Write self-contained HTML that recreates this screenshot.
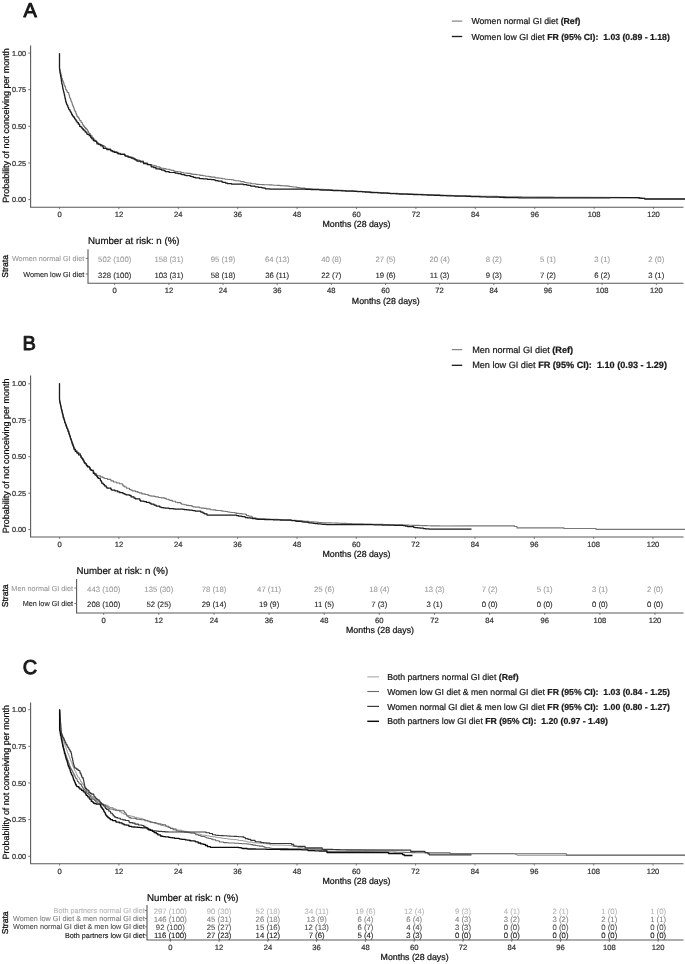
<!DOCTYPE html>
<html><head><meta charset="utf-8"><title>Figure</title>
<style>
html,body{margin:0;padding:0;background:#fff;}
svg{display:block;font-family:"Liberation Sans", sans-serif;text-rendering:geometricPrecision;}

</style></head><body>
<svg width="685" height="964" viewBox="0 0 685 964">
<defs><filter id="soft" x="0" y="0" width="685" height="964" filterUnits="userSpaceOnUse"><feGaussianBlur stdDeviation="0.35"/></filter></defs>
<rect width="685" height="964" fill="#fff"/>
<g filter="url(#soft)">
<text x="23.4" y="16.8" font-size="20.0" fill="#1a1a1a"  text-anchor="start" stroke="#1a1a1a" stroke-width="0.95" stroke-linejoin="round">A</text>
<path d="M30.6,45.5 V207.2 H683.5" fill="none" stroke="#5a5a5a" stroke-width="1.1"/>
<path d="M28.2,199.6 H30.6" stroke="#5a5a5a" stroke-width="0.8"/>
<text x="26.0" y="202.2" font-size="7.25" fill="#333" stroke="#333" stroke-width="0.22" text-anchor="end" >0.00</text>
<path d="M28.2,163.0 H30.6" stroke="#5a5a5a" stroke-width="0.8"/>
<text x="26.0" y="165.6" font-size="7.25" fill="#333" stroke="#333" stroke-width="0.22" text-anchor="end" >0.25</text>
<path d="M28.2,126.3 H30.6" stroke="#5a5a5a" stroke-width="0.8"/>
<text x="26.0" y="128.9" font-size="7.25" fill="#333" stroke="#333" stroke-width="0.22" text-anchor="end" >0.50</text>
<path d="M28.2,89.7 H30.6" stroke="#5a5a5a" stroke-width="0.8"/>
<text x="26.0" y="92.3" font-size="7.25" fill="#333" stroke="#333" stroke-width="0.22" text-anchor="end" >0.75</text>
<path d="M28.2,53.1 H30.6" stroke="#5a5a5a" stroke-width="0.8"/>
<text x="26.0" y="55.7" font-size="7.25" fill="#333" stroke="#333" stroke-width="0.22" text-anchor="end" >1.00</text>
<path d="M59.5,207.2 v1.9" stroke="#5a5a5a" stroke-width="0.8"/>
<text x="59.5" y="217.0" font-size="7.6" fill="#333" stroke="#333" stroke-width="0.22" text-anchor="middle" >0</text>
<path d="M118.9,207.2 v1.9" stroke="#5a5a5a" stroke-width="0.8"/>
<text x="118.9" y="217.0" font-size="7.6" fill="#333" stroke="#333" stroke-width="0.22" text-anchor="middle" >12</text>
<path d="M178.3,207.2 v1.9" stroke="#5a5a5a" stroke-width="0.8"/>
<text x="178.3" y="217.0" font-size="7.6" fill="#333" stroke="#333" stroke-width="0.22" text-anchor="middle" >24</text>
<path d="M237.7,207.2 v1.9" stroke="#5a5a5a" stroke-width="0.8"/>
<text x="237.7" y="217.0" font-size="7.6" fill="#333" stroke="#333" stroke-width="0.22" text-anchor="middle" >36</text>
<path d="M297.1,207.2 v1.9" stroke="#5a5a5a" stroke-width="0.8"/>
<text x="297.1" y="217.0" font-size="7.6" fill="#333" stroke="#333" stroke-width="0.22" text-anchor="middle" >48</text>
<path d="M356.5,207.2 v1.9" stroke="#5a5a5a" stroke-width="0.8"/>
<text x="356.5" y="217.0" font-size="7.6" fill="#333" stroke="#333" stroke-width="0.22" text-anchor="middle" >60</text>
<path d="M415.9,207.2 v1.9" stroke="#5a5a5a" stroke-width="0.8"/>
<text x="415.9" y="217.0" font-size="7.6" fill="#333" stroke="#333" stroke-width="0.22" text-anchor="middle" >72</text>
<path d="M475.3,207.2 v1.9" stroke="#5a5a5a" stroke-width="0.8"/>
<text x="475.3" y="217.0" font-size="7.6" fill="#333" stroke="#333" stroke-width="0.22" text-anchor="middle" >84</text>
<path d="M534.7,207.2 v1.9" stroke="#5a5a5a" stroke-width="0.8"/>
<text x="534.7" y="217.0" font-size="7.6" fill="#333" stroke="#333" stroke-width="0.22" text-anchor="middle" >96</text>
<path d="M594.1,207.2 v1.9" stroke="#5a5a5a" stroke-width="0.8"/>
<text x="594.1" y="217.0" font-size="7.6" fill="#333" stroke="#333" stroke-width="0.22" text-anchor="middle" >108</text>
<path d="M653.5,207.2 v1.9" stroke="#5a5a5a" stroke-width="0.8"/>
<text x="653.5" y="217.0" font-size="7.6" fill="#333" stroke="#333" stroke-width="0.22" text-anchor="middle" >120</text>
<text x="356.5" y="227.0" font-size="8.8" fill="#111" stroke="#111" stroke-width="0.22" text-anchor="middle" >Months (28 days)</text>
<text transform="translate(8.8,125.5) rotate(-90)" font-size="8.97" fill="#111" stroke="#111" stroke-width="0.25" text-anchor="middle">Probability of not conceiving per month</text>
<path d="M59.5,53.2 L59.5,68.4 L59.6,68.4 L59.6,69.7 L60.0,69.7 L60.0,70.5 L60.2,70.5 L60.2,71.8 L60.4,71.8 L60.4,72.3 L60.7,72.3 L60.7,73.6 L61.0,73.6 L61.0,74.9 L61.3,74.9 L61.3,75.6 L61.6,75.6 L61.6,77.2 L61.7,77.2 L61.7,78.2 L62.0,78.2 L62.0,78.6 L62.5,78.6 L62.5,80.0 L62.6,80.0 L62.6,80.8 L63.2,80.8 L63.2,82.1 L63.7,82.1 L63.7,83.4 L64.0,83.4 L64.0,84.6 L64.3,84.6 L64.3,85.5 L64.8,85.5 L64.8,86.6 L65.5,86.6 L65.5,88.0 L65.7,88.0 L65.7,89.5 L66.4,89.5 L66.4,90.4 L67.0,90.4 L67.0,91.7 L67.5,91.7 L67.5,92.5 L68.7,92.5 L68.7,94.0 L69.0,94.0 L69.0,95.1 L69.4,95.1 L69.4,96.5 L69.6,96.5 L69.6,97.5 L70.1,97.5 L70.1,98.3 L70.6,98.3 L70.6,99.7 L71.0,99.7 L71.0,101.1 L71.5,101.1 L71.5,102.1 L72.0,102.1 L72.0,103.0 L72.2,103.0 L72.2,104.2 L72.6,104.2 L72.6,105.3 L72.9,105.3 L72.9,106.1 L73.4,106.1 L73.4,107.3 L73.9,107.3 L73.9,108.4 L74.2,108.4 L74.2,109.7 L74.6,109.7 L74.6,110.6 L75.1,110.6 L75.1,111.5 L75.7,111.5 L75.7,112.7 L76.0,112.7 L76.0,113.6 L76.5,113.6 L76.5,115.0 L77.1,115.0 L77.1,116.6 L78.1,116.6 L78.1,117.6 L78.9,117.6 L78.9,118.5 L79.4,118.5 L79.4,120.0 L80.0,120.0 L80.0,120.6 L81.0,120.6 L81.0,122.0 L81.4,122.0 L81.4,122.7 L82.5,122.7 L82.5,124.3 L83.0,124.3 L83.0,125.3 L83.8,125.3 L83.8,126.4 L84.5,126.4 L84.5,127.4 L85.4,127.4 L85.4,128.4 L86.5,128.4 L86.5,129.3 L87.4,129.3 L87.4,130.3 L87.8,130.3 L87.8,131.2 L88.5,131.2 L88.5,132.5 L89.1,132.5 L89.1,133.6 L90.3,133.6 L90.3,134.7 L90.9,134.7 L90.9,135.8 L92.0,135.8 L92.0,137.0 L92.5,137.0 L92.5,137.7 L93.5,137.7 L93.5,139.0 L94.4,139.0 L94.4,140.1 L95.3,140.1 L95.3,141.5 L96.7,141.5 L96.7,142.6 L98.2,142.6 L98.2,143.8 L100.1,143.8 L100.1,144.5 L102.1,144.5 L102.1,145.5 L104.1,145.5 L104.1,146.6 L105.4,146.6 L105.4,148.2 L108.2,148.2 L108.2,148.9 L110.7,148.9 L110.7,150.2 L111.2,150.2 L111.2,151.0 L114.4,151.0 L114.4,151.6 L116.3,151.6 L116.3,152.4 L118.2,152.4 L118.2,153.4 L120.6,153.4 L120.6,154.0 L124.7,154.0 L124.7,154.8 L125.6,154.8 L125.6,156.0 L128.2,156.0 L128.2,156.7 L129.8,156.7 L129.8,157.4 L132.7,157.4 L132.7,158.6 L135.1,158.6 L135.1,159.7 L137.0,159.7 L137.0,160.1 L139.3,160.1 L139.3,161.0 L143.4,161.0 L143.4,162.3 L144.0,162.3 L144.0,162.9 L147.3,162.9 L147.3,164.1 L148.7,164.1 L148.7,164.7 L151.9,164.7 L151.9,165.3 L154.2,165.3 L154.2,165.9 L156.4,165.9 L156.4,166.9 L159.8,166.9 L159.8,167.6 L160.9,167.6 L160.9,168.3 L163.8,168.3 L163.8,168.6 L165.9,168.6 L165.9,169.3 L170.0,169.3 L170.0,170.0 L171.8,170.0 L171.8,170.4 L173.8,170.4 L173.8,171.1 L175.1,171.1 L175.1,171.5 L178.1,171.5 L178.1,171.8 L180.8,171.8 L180.8,172.3 L181.6,172.3 L181.6,172.5 L183.5,172.5 L183.5,173.0 L187.2,173.0 L187.2,173.4 L190.0,173.4 L190.0,173.6 L191.3,173.6 L191.3,174.1 L193.0,174.1 L193.0,174.4 L196.5,174.4 L196.5,174.7 L199.5,174.7 L199.5,175.1 L200.6,175.1 L200.6,175.4 L203.1,175.4 L203.1,175.8 L205.4,175.8 L205.4,176.3 L208.9,176.3 L208.9,176.6 L211.0,176.6 L211.0,177.1 L215.0,177.1 L215.0,177.5 L215.9,177.5 L215.9,177.9 L219.1,177.9 L219.1,178.2 L221.6,178.2 L221.6,178.4 L222.5,178.4 L222.5,178.7 L225.1,178.7 L225.1,179.2 L227.7,179.2 L227.7,179.5 L231.5,179.5 L231.5,179.8 L233.5,179.8 L233.5,180.2 L235.0,180.2 L235.0,180.8 L238.4,180.8 L238.4,181.0 L240.6,181.0 L240.6,181.6 L244.0,181.6 L244.0,182.0 L244.5,182.0 L244.5,182.5 L247.0,182.5 L247.0,183.0 L250.7,183.0 L250.7,183.5 L251.9,183.5 L251.9,183.8 L256.0,183.8 L256.0,184.3 L256.9,184.3 L256.9,184.4 L259.1,184.4 L259.1,184.5 L262.3,184.5 L262.3,184.6 L264.2,184.6 L264.2,184.7 L267.0,184.7 L267.0,184.8 L269.2,184.8 L269.2,184.9 L272.0,184.9 L272.0,185.0 L273.6,185.0 L273.6,185.2 L275.9,185.2 L275.9,185.3 L277.3,185.3 L277.3,185.4 L280.0,185.4 L280.0,185.6 L282.5,185.6 L282.5,185.8 L284.1,185.8 L284.1,185.9 L287.6,185.9 L287.6,186.1 L289.6,186.1 L289.6,186.5 L291.3,186.5 L291.3,186.7 L293.4,186.7 L293.4,187.0 L296.8,187.0 L296.8,187.6 L299.4,187.6 L299.4,187.7 L300.4,187.7 L300.4,188.1 L305.0,188.1 L305.0,188.5 L307.1,188.5 L307.1,188.6 L308.5,188.6 L308.5,188.8 L310.5,188.8 L310.5,188.9 L313.0,188.9 L313.0,189.0 L315.6,189.0 L315.6,189.1 L318.9,189.1 L318.9,189.3 L320.2,189.3 L320.2,189.4 L324.1,189.4 L324.1,189.5 L325.6,189.5 L325.6,189.6 L329.1,189.6 L329.1,189.7 L331.4,189.7 L331.4,189.9 L332.8,189.9 L332.8,190.0 L335.2,190.0 L335.2,190.1 L338.0,190.1 L338.0,190.3 L339.8,190.3 L339.8,190.4 L343.2,190.4 L343.2,190.5 L344.6,190.5 L344.6,190.6 L347.0,190.6 L347.0,190.7 L351.2,190.7 L351.2,190.9 L354.0,190.9 L354.0,191.0 L354.5,191.0 L354.5,191.1 L357.1,191.1 L357.1,191.2 L360.6,191.2 L360.6,191.4 L362.1,191.4 L362.1,191.5 L364.7,191.5 L364.7,191.6 L367.1,191.6 L367.1,191.8 L369.9,191.8 L369.9,191.9 L371.3,191.9 L371.3,192.0 L373.5,192.0 L373.5,192.2 L375.9,192.2 L375.9,192.3 L378.2,192.3 L378.2,192.5 L381.4,192.5 L381.4,192.6 L383.8,192.6 L383.8,192.8 L385.2,192.8 L385.2,192.8 L387.6,192.8 L387.6,193.0 L390.2,193.0 L390.2,193.2 L392.6,193.2 L392.6,193.2 L396.0,193.2 L396.0,193.4 L398.0,193.4 L398.0,193.5 L399.1,193.5 L399.1,193.6 L402.6,193.6 L402.6,193.7 L405.4,193.7 L405.4,193.8 L407.6,193.8 L407.6,193.8 L409.1,193.8 L409.1,193.9 L411.2,193.9 L411.2,194.0 L414.4,194.0 L414.4,194.1 L417.5,194.1 L417.5,194.2 L418.9,194.2 L418.9,194.3 L422.3,194.3 L422.3,194.4 L423.5,194.4 L423.5,194.5 L427.3,194.5 L427.3,194.6 L428.2,194.6 L428.2,194.6 L431.1,194.6 L431.1,194.7 L434.6,194.7 L434.6,194.8 L436.9,194.8 L436.9,194.9 L440.0,194.9 L440.0,195.0 L441.0,195.0 L441.0,195.1 L443.4,195.1 L443.4,195.2 L445.7,195.2 L445.7,195.2 L447.7,195.2 L447.7,195.3 L451.3,195.3 L451.3,195.5 L453.3,195.5 L453.3,195.5 L456.0,195.5 L456.0,195.6 L457.6,195.6 L457.6,195.7 L462.0,195.7 L462.0,195.8 L462.8,195.8 L462.8,195.8 L464.8,195.8 L464.8,195.9 L468.1,195.9 L468.1,195.9 L470.5,195.9 L470.5,196.0 L473.1,196.0 L473.1,196.0 L475.2,196.0 L475.2,196.1 L478.0,196.1 L478.0,196.1 L480.5,196.1 L480.5,196.2 L482.1,196.2 L482.1,196.2 L484.9,196.2 L484.9,196.3 L487.3,196.3 L487.3,196.3 L489.3,196.3 L489.3,196.3 L492.0,196.3 L492.0,196.4 L494.7,196.4 L494.7,196.4 L497.7,196.4 L497.7,196.5 L500.1,196.5 L500.1,196.5 L501.5,196.5 L501.5,196.6 L504.5,196.6 L504.5,196.6 L505.9,196.6 L505.9,196.7 L508.4,196.7 L508.4,196.7 L511.5,196.7 L511.5,196.8 L514.6,196.8 L514.6,196.8 L515.8,196.8 L515.8,196.9 L519.2,196.9 L519.2,196.9 L521.8,196.9 L521.8,197.0 L524.8,197.0 L524.8,197.0 L526.5,197.0 L526.5,197.0 L528.7,197.0 L528.7,197.0 L530.5,197.0 L530.5,197.0 L534.0,197.0 L534.0,197.0 L536.5,197.0 L536.5,197.1 L537.5,197.1 L537.5,197.1 L541.0,197.1 L541.0,197.1 L543.6,197.1 L543.6,197.1 L545.7,197.1 L545.7,197.1 L548.2,197.1 L548.2,197.1 L550.2,197.1 L550.2,197.1 L553.4,197.1 L553.4,197.2 L555.9,197.2 L555.9,197.2 L557.3,197.2 L557.3,197.2 L560.5,197.2 L560.5,197.2 L562.3,197.2 L562.3,197.2 L564.2,197.2 L564.2,197.2 L566.9,197.2 L566.9,197.2 L569.0,197.2 L569.0,197.2 L572.8,197.2 L572.8,197.3 L575.3,197.3 L575.3,197.3 L576.3,197.3 L576.3,197.3 L579.5,197.3 L579.5,197.3 L583.0,197.3 L583.0,197.3 L633.0,197.6 L634.2,197.6 L634.2,197.8 L637.2,197.8 L637.2,198.0 L639.5,198.0 L639.5,198.1 L641.5,198.1 L641.5,198.4 L645.0,198.4 L645.0,198.6 L685.0,198.6" fill="none" stroke="#777" stroke-width="1.1" stroke-linejoin="round"/>
<path d="M59.5,53.2 L59.5,68.4 L59.6,68.4 L59.6,69.4 L59.8,69.4 L59.8,70.5 L59.9,70.5 L59.9,71.8 L60.0,71.8 L60.0,73.1 L60.3,73.1 L60.3,74.1 L60.5,74.1 L60.5,74.9 L60.6,74.9 L60.6,75.9 L60.7,75.9 L60.7,76.8 L61.0,76.8 L61.0,77.7 L61.1,77.7 L61.1,78.8 L61.3,78.8 L61.3,80.2 L61.4,80.2 L61.4,81.2 L61.7,81.2 L61.7,82.4 L61.8,82.4 L61.8,83.8 L62.1,83.8 L62.1,84.6 L62.3,84.6 L62.3,85.3 L62.5,85.3 L62.5,86.9 L62.7,86.9 L62.7,87.9 L62.9,87.9 L62.9,88.9 L63.2,88.9 L63.2,90.1 L63.4,90.1 L63.4,91.1 L63.7,91.1 L63.7,92.2 L64.0,92.2 L64.0,93.0 L64.1,93.0 L64.1,94.1 L64.5,94.1 L64.5,95.7 L64.8,95.7 L64.8,96.5 L64.9,96.5 L64.9,97.9 L65.2,97.9 L65.2,98.7 L65.5,98.7 L65.5,100.2 L65.7,100.2 L65.7,101.4 L66.0,101.4 L66.0,102.2 L66.4,102.2 L66.4,103.4 L66.7,103.4 L66.7,104.6 L67.3,104.6 L67.3,105.3 L67.8,105.3 L67.8,107.0 L68.2,107.0 L68.2,107.6 L68.6,107.6 L68.6,109.1 L69.2,109.1 L69.2,109.8 L70.0,109.8 L70.0,111.0 L70.5,111.0 L70.5,111.9 L71.1,111.9 L71.1,112.9 L71.6,112.9 L71.6,114.3 L72.3,114.3 L72.3,115.7 L73.0,115.7 L73.0,116.5 L73.6,116.5 L73.6,117.2 L74.5,117.2 L74.5,118.6 L75.1,118.6 L75.1,119.3 L75.9,119.3 L75.9,120.8 L76.8,120.8 L76.8,121.6 L77.2,121.6 L77.2,122.7 L78.4,122.7 L78.4,124.2 L79.5,124.2 L79.5,125.0 L79.7,125.0 L79.7,126.4 L80.9,126.4 L80.9,127.1 L82.0,127.1 L82.0,128.4 L82.5,128.4 L82.5,128.9 L83.4,128.9 L83.4,130.2 L85.0,130.2 L85.0,131.4 L85.3,131.4 L85.3,132.1 L86.8,132.1 L86.8,133.8 L87.4,133.8 L87.4,134.4 L89.2,134.4 L89.2,135.7 L90.5,135.7 L90.5,137.0 L91.4,137.0 L91.4,138.0 L92.1,138.0 L92.1,138.9 L93.3,138.9 L93.3,140.7 L95.0,140.7 L95.0,141.2 L96.7,141.2 L96.7,142.6 L97.0,142.6 L97.0,143.9 L98.9,143.9 L98.9,144.5 L100.8,144.5 L100.8,145.8 L103.0,145.8 L103.0,147.0 L103.4,147.0 L103.4,148.4 L106.8,148.4 L106.8,149.6 L110.7,149.6 L110.7,150.6 L112.3,150.6 L112.3,151.6 L114.2,151.6 L114.2,152.3 L117.0,152.3 L117.0,153.0 L118.2,153.0 L118.2,153.9 L120.4,153.9 L120.4,154.4 L124.7,154.4 L124.7,155.3 L125.2,155.3 L125.2,156.0 L128.1,156.0 L128.1,157.2 L131.1,157.2 L131.1,158.0 L134.0,158.0 L134.0,159.0 L135.2,159.0 L135.2,159.8 L136.9,159.8 L136.9,161.1 L140.6,161.1 L140.6,161.9 L143.4,161.9 L143.4,163.0 L143.8,163.0 L143.8,163.7 L147.3,163.7 L147.3,164.7 L151.0,164.7 L151.0,166.0 L151.4,166.0 L151.4,166.9 L153.8,166.9 L153.8,167.7 L155.9,167.7 L155.9,168.8 L159.8,168.8 L159.8,169.3 L161.7,169.3 L161.7,170.0 L164.1,170.0 L164.1,170.7 L165.2,170.7 L165.2,171.6 L169.1,171.6 L169.1,172.3 L174.0,172.5 L175.3,172.5 L175.3,173.1 L177.9,173.1 L177.9,173.5 L180.8,173.5 L180.8,174.2 L181.8,174.2 L181.8,174.6 L184.4,174.6 L184.4,175.2 L185.9,175.2 L185.9,175.6 L190.2,175.6 L190.2,176.3 L191.7,176.3 L191.7,176.7 L193.3,176.7 L193.3,177.3 L195.4,177.3 L195.4,177.9 L199.5,177.9 L199.5,178.6 L200.8,178.6 L200.8,178.7 L203.2,178.7 L203.2,178.9 L207.0,178.9 L207.0,179.0 L207.7,179.0 L207.7,179.4 L211.2,179.4 L211.2,179.6 L214.0,179.6 L214.0,179.8 L215.2,179.8 L215.2,180.6 L218.0,180.6 L218.0,181.0 L222.0,181.0 L222.0,182.0 L223.1,182.0 L223.1,182.4 L225.6,182.4 L225.6,183.1 L227.4,183.1 L227.4,183.5 L231.5,183.5 L231.5,184.0 L242.0,184.0 L243.3,184.0 L243.3,184.7 L246.7,184.7 L246.7,185.0 L248.7,185.0 L248.7,185.3 L250.7,185.3 L250.7,186.1 L255.0,186.1 L255.0,186.5 L255.6,186.5 L255.6,186.9 L258.4,186.9 L258.4,187.4 L261.8,187.4 L261.8,187.8 L264.1,187.8 L264.1,188.2 L265.4,188.2 L265.4,188.8 L270.0,188.8 L270.0,189.2 L305.0,189.2 L305.5,189.2 L305.5,189.3 L308.4,189.3 L308.4,189.4 L311.0,189.4 L311.0,189.5 L314.5,189.5 L314.5,189.6 L315.5,189.6 L315.5,189.7 L319.2,189.7 L319.2,189.8 L320.7,189.8 L320.7,190.0 L323.9,190.0 L323.9,190.1 L326.1,190.1 L326.1,190.2 L330.0,190.2 L330.0,190.3 L331.5,190.3 L331.5,190.4 L332.8,190.4 L332.8,190.5 L336.3,190.5 L336.3,190.6 L338.9,190.6 L338.9,190.7 L341.2,190.7 L341.2,190.8 L343.2,190.8 L343.2,190.9 L345.4,190.9 L345.4,191.0 L347.9,191.0 L347.9,191.1 L350.9,191.1 L350.9,191.2 L354.0,191.2 L354.0,191.3 L355.1,191.3 L355.1,191.4 L357.1,191.4 L357.1,191.6 L359.7,191.6 L359.7,191.7 L362.5,191.7 L362.5,191.9 L365.2,191.9 L365.2,192.0 L367.0,192.0 L367.0,192.1 L369.7,192.1 L369.7,192.4 L370.8,192.4 L370.8,192.5 L375.0,192.5 L375.0,192.6 L376.4,192.6 L376.4,192.7 L377.9,192.7 L377.9,192.9 L380.5,192.9 L380.5,193.0 L382.7,193.0 L382.7,193.2 L385.8,193.2 L385.8,193.2 L388.1,193.2 L388.1,193.4 L390.1,193.4 L390.1,193.6 L392.5,193.6 L392.5,193.6 L396.0,193.6 L396.0,193.8 L397.9,193.8 L397.9,193.9 L399.5,193.9 L399.5,194.0 L402.3,194.0 L402.3,194.1 L404.2,194.1 L404.2,194.1 L407.6,194.1 L407.6,194.3 L409.7,194.3 L409.7,194.3 L411.7,194.3 L411.7,194.4 L413.4,194.4 L413.4,194.5 L416.3,194.5 L416.3,194.6 L420.0,194.6 L420.0,194.7 L421.6,194.7 L421.6,194.8 L423.7,194.8 L423.7,194.9 L427.1,194.9 L427.1,195.0 L428.5,195.0 L428.5,195.1 L431.7,195.1 L431.7,195.2 L434.0,195.2 L434.0,195.3 L436.7,195.3 L436.7,195.4 L440.0,195.4 L440.0,195.5 L440.4,195.5 L440.4,195.6 L443.7,195.6 L443.7,195.7 L446.6,195.7 L446.6,195.8 L449.4,195.8 L449.4,195.8 L451.5,195.8 L451.5,195.9 L454.2,195.9 L454.2,196.0 L455.3,196.0 L455.3,196.1 L459.4,196.1 L459.4,196.1 L462.4,196.1 L462.4,196.2 L464.0,196.2 L464.0,196.2 L466.0,196.2 L466.0,196.3 L467.7,196.3 L467.7,196.4 L471.0,196.4 L471.0,196.5 L472.3,196.5 L472.3,196.6 L475.4,196.6 L475.4,196.6 L477.4,196.6 L477.4,196.7 L479.5,196.7 L479.5,196.8 L482.3,196.8 L482.3,196.8 L484.5,196.8 L484.5,196.9 L486.4,196.9 L486.4,197.0 L489.9,197.0 L489.9,197.0 L490.8,197.0 L490.8,197.1 L495.0,197.1 L495.0,197.2 L495.7,197.2 L495.7,197.2 L499.2,197.2 L499.2,197.3 L501.7,197.3 L501.7,197.4 L503.5,197.4 L503.5,197.5 L506.5,197.5 L506.5,197.5 L509.2,197.5 L509.2,197.6 L511.8,197.6 L511.8,197.6 L513.0,197.6 L513.0,197.7 L515.5,197.7 L515.5,197.7 L518.4,197.7 L518.4,197.8 L521.0,197.8 L521.0,197.8 L524.8,197.8 L524.8,197.9 L583.0,197.9 L584.2,197.9 L584.2,197.9 L586.7,197.9 L586.7,197.9 L589.7,197.9 L589.7,197.9 L590.7,197.9 L590.7,197.8 L594.4,197.8 L594.4,197.8 L596.0,197.8 L596.0,197.8 L599.0,197.8 L599.0,197.8 L601.6,197.8 L601.6,197.8 L603.8,197.8 L603.8,197.8 L605.8,197.8 L605.8,197.8 L609.0,197.8 L609.0,197.8 L610.1,197.8 L610.1,197.7 L613.4,197.7 L613.4,197.7 L615.5,197.7 L615.5,197.7 L618.1,197.7 L618.1,197.7 L621.1,197.7 L621.1,197.7 L623.4,197.7 L623.4,197.7 L625.5,197.7 L625.5,197.7 L627.4,197.7 L627.4,197.7 L629.7,197.7 L629.7,197.6 L632.5,197.6 L632.5,197.6 L634.5,197.6 L634.5,197.6 L638.6,197.6 L638.6,197.6 L639.4,197.6 L639.4,198.2 L641.4,198.2 L641.4,198.4 L644.7,198.4 L644.7,199.0 L685.0,199.0" fill="none" stroke="#1a1a1a" stroke-width="1.25" stroke-linejoin="round"/>
<path d="M451.8,21.1 H462.2" stroke="#6a6a6a" stroke-width="1.0"/>
<text x="471.5" y="24.2" font-size="8.7" fill="#1a1a1a" stroke="#1a1a1a" stroke-width="0.22" text-anchor="start" xml:space="preserve">Women normal GI diet <tspan font-weight="bold">(Ref)</tspan></text>
<path d="M451.8,36.5 H462.2" stroke="#1a1a1a" stroke-width="1.3"/>
<text x="471.5" y="39.6" font-size="8.7" fill="#1a1a1a" stroke="#1a1a1a" stroke-width="0.22" text-anchor="start" xml:space="preserve">Women low GI diet <tspan font-weight="bold">FR (95% CI):  1.03 (0.89 - 1.18)</tspan></text>
<text x="88.0" y="244.2" font-size="9.7" fill="#111" stroke="#111" stroke-width="0.22" text-anchor="start" >Number at risk: n (%)</text>
<path d="M88.0,249.2 V283.2 H683.5" fill="none" stroke="#5a5a5a" stroke-width="1.1"/>
<path d="M85.7,258.4 H88.0" stroke="#5a5a5a" stroke-width="0.8"/>
<text x="84.3" y="261.0" font-size="7.25" fill="#999"  text-anchor="end" stroke="#999" stroke-width="0.1">Women normal GI diet</text>
<text x="114.7" y="262.0" font-size="7.75" fill="#999"  text-anchor="middle" stroke="#999" stroke-width="0.08">502 (100)</text>
<text x="168.9" y="262.0" font-size="7.75" fill="#999"  text-anchor="middle" stroke="#999" stroke-width="0.08">158 (31)</text>
<text x="223.0" y="262.0" font-size="7.75" fill="#999"  text-anchor="middle" stroke="#999" stroke-width="0.08">95 (19)</text>
<text x="277.2" y="262.0" font-size="7.75" fill="#999"  text-anchor="middle" stroke="#999" stroke-width="0.08">64 (13)</text>
<text x="331.3" y="262.0" font-size="7.75" fill="#999"  text-anchor="middle" stroke="#999" stroke-width="0.08">40 (8)</text>
<text x="385.5" y="262.0" font-size="7.75" fill="#999"  text-anchor="middle" stroke="#999" stroke-width="0.08">27 (5)</text>
<text x="439.6" y="262.0" font-size="7.75" fill="#999"  text-anchor="middle" stroke="#999" stroke-width="0.08">20 (4)</text>
<text x="493.8" y="262.0" font-size="7.75" fill="#999"  text-anchor="middle" stroke="#999" stroke-width="0.08">8 (2)</text>
<text x="547.9" y="262.0" font-size="7.75" fill="#999"  text-anchor="middle" stroke="#999" stroke-width="0.08">5 (1)</text>
<text x="602.1" y="262.0" font-size="7.75" fill="#999"  text-anchor="middle" stroke="#999" stroke-width="0.08">3 (1)</text>
<text x="656.3" y="262.0" font-size="7.75" fill="#999"  text-anchor="middle" stroke="#999" stroke-width="0.08">2 (0)</text>
<path d="M85.7,274.0 H88.0" stroke="#5a5a5a" stroke-width="0.8"/>
<text x="84.3" y="276.6" font-size="7.25" fill="#1a1a1a"  text-anchor="end" stroke="#1a1a1a" stroke-width="0.1">Women low GI diet</text>
<text x="114.7" y="277.8" font-size="7.75" fill="#1a1a1a"  text-anchor="middle" stroke="#1a1a1a" stroke-width="0.08">328 (100)</text>
<text x="168.9" y="277.8" font-size="7.75" fill="#1a1a1a"  text-anchor="middle" stroke="#1a1a1a" stroke-width="0.08">103 (31)</text>
<text x="223.0" y="277.8" font-size="7.75" fill="#1a1a1a"  text-anchor="middle" stroke="#1a1a1a" stroke-width="0.08">58 (18)</text>
<text x="277.2" y="277.8" font-size="7.75" fill="#1a1a1a"  text-anchor="middle" stroke="#1a1a1a" stroke-width="0.08">36 (11)</text>
<text x="331.3" y="277.8" font-size="7.75" fill="#1a1a1a"  text-anchor="middle" stroke="#1a1a1a" stroke-width="0.08">22 (7)</text>
<text x="385.5" y="277.8" font-size="7.75" fill="#1a1a1a"  text-anchor="middle" stroke="#1a1a1a" stroke-width="0.08">19 (6)</text>
<text x="439.6" y="277.8" font-size="7.75" fill="#1a1a1a"  text-anchor="middle" stroke="#1a1a1a" stroke-width="0.08">11 (3)</text>
<text x="493.8" y="277.8" font-size="7.75" fill="#1a1a1a"  text-anchor="middle" stroke="#1a1a1a" stroke-width="0.08">9 (3)</text>
<text x="547.9" y="277.8" font-size="7.75" fill="#1a1a1a"  text-anchor="middle" stroke="#1a1a1a" stroke-width="0.08">7 (2)</text>
<text x="602.1" y="277.8" font-size="7.75" fill="#1a1a1a"  text-anchor="middle" stroke="#1a1a1a" stroke-width="0.08">6 (2)</text>
<text x="656.3" y="277.8" font-size="7.75" fill="#1a1a1a"  text-anchor="middle" stroke="#1a1a1a" stroke-width="0.08">3 (1)</text>
<path d="M114.7,283.2 v1.9" stroke="#5a5a5a" stroke-width="0.8"/>
<text x="114.7" y="293.3" font-size="7.6" fill="#333" stroke="#333" stroke-width="0.22" text-anchor="middle" >0</text>
<path d="M168.9,283.2 v1.9" stroke="#5a5a5a" stroke-width="0.8"/>
<text x="168.9" y="293.3" font-size="7.6" fill="#333" stroke="#333" stroke-width="0.22" text-anchor="middle" >12</text>
<path d="M223.0,283.2 v1.9" stroke="#5a5a5a" stroke-width="0.8"/>
<text x="223.0" y="293.3" font-size="7.6" fill="#333" stroke="#333" stroke-width="0.22" text-anchor="middle" >24</text>
<path d="M277.2,283.2 v1.9" stroke="#5a5a5a" stroke-width="0.8"/>
<text x="277.2" y="293.3" font-size="7.6" fill="#333" stroke="#333" stroke-width="0.22" text-anchor="middle" >36</text>
<path d="M331.3,283.2 v1.9" stroke="#5a5a5a" stroke-width="0.8"/>
<text x="331.3" y="293.3" font-size="7.6" fill="#333" stroke="#333" stroke-width="0.22" text-anchor="middle" >48</text>
<path d="M385.5,283.2 v1.9" stroke="#5a5a5a" stroke-width="0.8"/>
<text x="385.5" y="293.3" font-size="7.6" fill="#333" stroke="#333" stroke-width="0.22" text-anchor="middle" >60</text>
<path d="M439.6,283.2 v1.9" stroke="#5a5a5a" stroke-width="0.8"/>
<text x="439.6" y="293.3" font-size="7.6" fill="#333" stroke="#333" stroke-width="0.22" text-anchor="middle" >72</text>
<path d="M493.8,283.2 v1.9" stroke="#5a5a5a" stroke-width="0.8"/>
<text x="493.8" y="293.3" font-size="7.6" fill="#333" stroke="#333" stroke-width="0.22" text-anchor="middle" >84</text>
<path d="M547.9,283.2 v1.9" stroke="#5a5a5a" stroke-width="0.8"/>
<text x="547.9" y="293.3" font-size="7.6" fill="#333" stroke="#333" stroke-width="0.22" text-anchor="middle" >96</text>
<path d="M602.1,283.2 v1.9" stroke="#5a5a5a" stroke-width="0.8"/>
<text x="602.1" y="293.3" font-size="7.6" fill="#333" stroke="#333" stroke-width="0.22" text-anchor="middle" >108</text>
<path d="M656.3,283.2 v1.9" stroke="#5a5a5a" stroke-width="0.8"/>
<text x="656.3" y="293.3" font-size="7.6" fill="#333" stroke="#333" stroke-width="0.22" text-anchor="middle" >120</text>
<text x="385.8" y="304.0" font-size="8.8" fill="#111" stroke="#111" stroke-width="0.22" text-anchor="middle" >Months (28 days)</text>
<text transform="translate(8.2,266.4) rotate(-90)" font-size="8.55" fill="#111" stroke="#111" stroke-width="0.3" text-anchor="middle">Strata</text>
<text x="22.6" y="349.8" font-size="20.0" fill="#1a1a1a"  text-anchor="start" stroke="#1a1a1a" stroke-width="0.95" stroke-linejoin="round">B</text>
<path d="M30.6,375.6 V537.0 H683.5" fill="none" stroke="#5a5a5a" stroke-width="1.1"/>
<path d="M28.2,529.6 H30.6" stroke="#5a5a5a" stroke-width="0.8"/>
<text x="26.0" y="532.2" font-size="7.25" fill="#333" stroke="#333" stroke-width="0.22" text-anchor="end" >0.00</text>
<path d="M28.2,493.2 H30.6" stroke="#5a5a5a" stroke-width="0.8"/>
<text x="26.0" y="495.8" font-size="7.25" fill="#333" stroke="#333" stroke-width="0.22" text-anchor="end" >0.25</text>
<path d="M28.2,456.7 H30.6" stroke="#5a5a5a" stroke-width="0.8"/>
<text x="26.0" y="459.3" font-size="7.25" fill="#333" stroke="#333" stroke-width="0.22" text-anchor="end" >0.50</text>
<path d="M28.2,420.2 H30.6" stroke="#5a5a5a" stroke-width="0.8"/>
<text x="26.0" y="422.9" font-size="7.25" fill="#333" stroke="#333" stroke-width="0.22" text-anchor="end" >0.75</text>
<path d="M28.2,383.8 H30.6" stroke="#5a5a5a" stroke-width="0.8"/>
<text x="26.0" y="386.4" font-size="7.25" fill="#333" stroke="#333" stroke-width="0.22" text-anchor="end" >1.00</text>
<path d="M59.6,537.0 v1.9" stroke="#5a5a5a" stroke-width="0.8"/>
<text x="59.6" y="546.8" font-size="7.6" fill="#333" stroke="#333" stroke-width="0.22" text-anchor="middle" >0</text>
<path d="M118.9,537.0 v1.9" stroke="#5a5a5a" stroke-width="0.8"/>
<text x="118.9" y="546.8" font-size="7.6" fill="#333" stroke="#333" stroke-width="0.22" text-anchor="middle" >12</text>
<path d="M178.3,537.0 v1.9" stroke="#5a5a5a" stroke-width="0.8"/>
<text x="178.3" y="546.8" font-size="7.6" fill="#333" stroke="#333" stroke-width="0.22" text-anchor="middle" >24</text>
<path d="M237.6,537.0 v1.9" stroke="#5a5a5a" stroke-width="0.8"/>
<text x="237.6" y="546.8" font-size="7.6" fill="#333" stroke="#333" stroke-width="0.22" text-anchor="middle" >36</text>
<path d="M297.0,537.0 v1.9" stroke="#5a5a5a" stroke-width="0.8"/>
<text x="297.0" y="546.8" font-size="7.6" fill="#333" stroke="#333" stroke-width="0.22" text-anchor="middle" >48</text>
<path d="M356.3,537.0 v1.9" stroke="#5a5a5a" stroke-width="0.8"/>
<text x="356.3" y="546.8" font-size="7.6" fill="#333" stroke="#333" stroke-width="0.22" text-anchor="middle" >60</text>
<path d="M415.6,537.0 v1.9" stroke="#5a5a5a" stroke-width="0.8"/>
<text x="415.6" y="546.8" font-size="7.6" fill="#333" stroke="#333" stroke-width="0.22" text-anchor="middle" >72</text>
<path d="M475.0,537.0 v1.9" stroke="#5a5a5a" stroke-width="0.8"/>
<text x="475.0" y="546.8" font-size="7.6" fill="#333" stroke="#333" stroke-width="0.22" text-anchor="middle" >84</text>
<path d="M534.3,537.0 v1.9" stroke="#5a5a5a" stroke-width="0.8"/>
<text x="534.3" y="546.8" font-size="7.6" fill="#333" stroke="#333" stroke-width="0.22" text-anchor="middle" >96</text>
<path d="M593.7,537.0 v1.9" stroke="#5a5a5a" stroke-width="0.8"/>
<text x="593.7" y="546.8" font-size="7.6" fill="#333" stroke="#333" stroke-width="0.22" text-anchor="middle" >108</text>
<path d="M653.0,537.0 v1.9" stroke="#5a5a5a" stroke-width="0.8"/>
<text x="653.0" y="546.8" font-size="7.6" fill="#333" stroke="#333" stroke-width="0.22" text-anchor="middle" >120</text>
<text x="356.5" y="556.8" font-size="8.8" fill="#111" stroke="#111" stroke-width="0.22" text-anchor="middle" >Months (28 days)</text>
<text transform="translate(8.8,455.9) rotate(-90)" font-size="8.97" fill="#111" stroke="#111" stroke-width="0.25" text-anchor="middle">Probability of not conceiving per month</text>
<path d="M59.5,383.2 L59.5,399.5 L59.6,399.5 L59.6,400.2 L59.8,400.2 L59.8,401.9 L60.0,401.9 L60.0,402.5 L60.3,402.5 L60.3,403.6 L60.5,403.6 L60.5,405.2 L60.6,405.2 L60.6,405.9 L61.0,405.9 L61.0,407.0 L61.2,407.0 L61.2,408.1 L61.4,408.1 L61.4,409.4 L61.7,409.4 L61.7,410.4 L61.8,410.4 L61.8,411.1 L62.2,411.1 L62.2,412.7 L62.5,412.7 L62.5,413.7 L62.8,413.7 L62.8,414.7 L62.9,414.7 L62.9,416.2 L63.2,416.2 L63.2,416.9 L63.7,416.9 L63.7,418.4 L64.0,418.4 L64.0,419.3 L64.4,419.3 L64.4,420.9 L64.7,420.9 L64.7,422.0 L65.0,422.0 L65.0,422.5 L65.5,422.5 L65.5,424.0 L65.6,424.0 L65.6,425.2 L66.1,425.2 L66.1,426.2 L66.8,426.2 L66.8,427.4 L67.1,427.4 L67.1,428.8 L67.6,428.8 L67.6,429.9 L68.0,429.9 L68.0,431.4 L68.7,431.4 L68.7,432.2 L68.9,432.2 L68.9,433.7 L69.3,433.7 L69.3,434.7 L69.7,434.7 L69.7,435.6 L70.0,435.6 L70.0,436.8 L70.3,436.8 L70.3,437.5 L70.5,437.5 L70.5,439.1 L71.1,439.1 L71.1,440.0 L71.5,440.0 L71.5,441.0 L71.6,441.0 L71.6,442.0 L72.0,442.0 L72.0,442.9 L72.7,442.9 L72.7,444.1 L73.1,444.1 L73.1,445.5 L73.3,445.5 L73.3,446.6 L73.9,446.6 L73.9,447.1 L74.5,447.1 L74.5,448.5 L75.1,448.5 L75.1,449.9 L75.7,449.9 L75.7,450.7 L77.1,450.7 L77.1,452.1 L77.8,452.1 L77.8,452.7 L79.2,452.7 L79.2,453.6 L80.4,453.6 L80.4,455.0 L80.8,455.0 L80.8,455.9 L81.2,455.9 L81.2,457.5 L81.9,457.5 L81.9,458.5 L82.6,458.5 L82.6,459.1 L83.3,459.1 L83.3,460.2 L83.8,460.2 L83.8,461.3 L84.4,461.3 L84.4,462.5 L85.4,462.5 L85.4,463.5 L86.2,463.5 L86.2,464.5 L86.8,464.5 L86.8,465.8 L88.0,465.8 L88.0,466.6 L89.5,466.6 L89.5,467.8 L90.3,467.8 L90.3,469.6 L91.4,469.6 L91.4,470.4 L93.2,470.4 L93.2,471.5 L93.8,471.5 L93.8,472.6 L94.6,472.6 L94.6,473.9 L96.7,473.9 L96.7,475.0 L97.1,475.0 L97.1,475.8 L100.4,475.8 L100.4,476.8 L102.7,476.8 L102.7,477.5 L104.1,477.5 L104.1,478.5 L107.4,478.5 L107.4,479.4 L110.7,479.4 L110.7,480.1 L111.1,480.1 L111.1,480.9 L113.5,480.9 L113.5,482.0 L116.8,482.0 L116.8,483.0 L119.6,483.0 L119.6,483.7 L122.4,483.7 L122.4,484.8 L123.1,484.8 L123.1,486.1 L124.8,486.1 L124.8,487.0 L126.6,487.0 L126.6,488.2 L129.4,488.2 L129.4,489.5 L131.0,489.5 L131.0,490.1 L132.1,490.1 L132.1,490.8 L135.4,490.8 L135.4,491.6 L138.0,491.6 L138.0,492.5 L139.6,492.5 L139.6,492.9 L141.8,492.9 L141.8,493.8 L145.1,493.8 L145.1,494.5 L148.1,494.5 L148.1,495.3 L149.8,495.3 L149.8,495.8 L151.5,495.8 L151.5,496.1 L154.5,496.1 L154.5,496.5 L155.8,496.5 L155.8,496.9 L158.4,496.9 L158.4,497.5 L161.2,497.5 L161.2,497.8 L164.5,497.8 L164.5,498.3 L166.2,498.3 L166.2,499.2 L168.5,499.2 L168.5,499.7 L169.8,499.7 L169.8,500.3 L172.3,500.3 L172.3,501.2 L175.5,501.2 L175.5,502.2 L177.5,502.2 L177.5,502.6 L180.8,502.6 L180.8,503.5 L181.7,503.5 L181.7,504.2 L184.2,504.2 L184.2,504.7 L186.5,504.7 L186.5,505.3 L188.8,505.3 L188.8,505.6 L192.0,505.6 L192.0,506.3 L193.1,506.3 L193.1,506.8 L195.2,506.8 L195.2,507.1 L199.5,507.1 L199.5,507.7 L201.3,507.7 L201.3,508.1 L204.1,508.1 L204.1,508.4 L206.4,508.4 L206.4,508.9 L210.0,508.9 L210.0,509.3 L210.7,509.3 L210.7,509.7 L212.6,509.7 L212.6,509.8 L215.6,509.8 L215.6,510.3 L217.4,510.3 L217.4,510.5 L221.0,510.5 L221.0,510.8 L223.0,510.8 L223.0,511.2 L225.4,511.2 L225.4,511.5 L227.8,511.5 L227.8,512.0 L229.7,512.0 L229.7,512.2 L231.2,512.2 L231.2,512.5 L234.9,512.5 L234.9,512.8 L236.4,512.8 L236.4,513.3 L239.0,513.3 L239.0,513.6 L242.1,513.6 L242.1,514.0 L245.5,514.0 L245.5,514.3 L246.5,514.3 L246.5,515.6 L248.9,515.6 L248.9,516.2 L252.1,516.2 L252.1,517.7 L256.0,517.7 L256.0,518.5 L257.9,518.5 L257.9,518.6 L260.0,518.6 L260.0,518.7 L262.4,518.7 L262.4,518.8 L263.4,518.8 L263.4,518.9 L266.7,518.9 L266.7,519.0 L269.4,519.0 L269.4,519.1 L270.4,519.1 L270.4,519.2 L273.1,519.2 L273.1,519.3 L275.5,519.3 L275.5,519.4 L278.2,519.4 L278.2,519.5 L280.4,519.5 L280.4,519.6 L282.8,519.6 L282.8,519.7 L285.6,519.7 L285.6,519.8 L286.7,519.8 L286.7,519.9 L291.0,519.9 L291.0,520.0 L291.7,520.0 L291.7,520.3 L294.4,520.3 L294.4,520.4 L296.4,520.4 L296.4,520.6 L299.6,520.6 L299.6,520.8 L302.3,520.8 L302.3,521.0 L304.2,521.0 L304.2,521.3 L306.1,521.3 L306.1,521.4 L308.7,521.4 L308.7,521.7 L311.4,521.7 L311.4,521.9 L314.3,521.9 L314.3,522.0 L317.0,522.0 L317.0,522.3 L318.8,522.3 L318.8,522.5 L322.6,522.5 L322.6,522.7 L323.1,522.7 L323.1,522.8 L326.0,522.8 L326.0,522.9 L328.3,522.9 L328.3,522.9 L331.4,522.9 L331.4,523.0 L333.8,523.0 L333.8,523.0 L335.3,523.0 L335.3,523.1 L338.5,523.1 L338.5,523.2 L340.6,523.2 L340.6,523.3 L342.1,523.3 L342.1,523.4 L344.8,523.4 L344.8,523.4 L346.6,523.4 L346.6,523.5 L350.0,523.5 L350.0,523.6 L352.1,523.6 L352.1,523.7 L354.8,523.7 L354.8,523.7 L357.7,523.7 L357.7,523.8 L358.1,523.8 L358.1,523.9 L361.9,523.9 L361.9,523.9 L363.1,523.9 L363.1,524.0 L366.7,524.0 L366.7,524.1 L368.8,524.1 L368.8,524.1 L371.5,524.1 L371.5,524.2 L374.1,524.2 L374.1,524.2 L375.9,524.2 L375.9,524.3 L378.7,524.3 L378.7,524.4 L379.8,524.4 L379.8,524.4 L383.4,524.4 L383.4,524.5 L385.4,524.5 L385.4,524.5 L388.1,524.5 L388.1,524.6 L389.5,524.6 L389.5,524.7 L393.0,524.7 L393.0,524.7 L396.2,524.7 L396.2,524.8 L396.7,524.8 L396.7,524.9 L399.9,524.9 L399.9,524.9 L403.1,524.9 L403.1,525.0 L404.6,525.0 L404.6,525.1 L407.6,525.1 L407.6,525.1 L409.0,525.1 L409.0,525.2 L412.3,525.2 L412.3,525.3 L414.9,525.3 L414.9,525.3 L417.2,525.3 L417.2,525.4 L419.3,525.4 L419.3,525.5 L421.7,525.5 L421.7,525.6 L424.4,525.6 L424.4,525.6 L427.3,525.6 L427.3,525.7 L428.5,525.7 L428.5,525.7 L430.8,525.7 L430.8,525.8 L434.3,525.8 L434.3,525.9 L437.1,525.9 L437.1,525.9 L440.0,525.9 L440.0,526.0 L470.7,525.8 L514.0,525.8 L514.5,525.8 L514.5,526.5 L517.0,526.5 L517.0,527.9 L561.0,527.9 L564.0,527.9 L564.0,528.5 L593.0,528.5 L596.0,528.5 L596.0,529.3 L685.0,529.3" fill="none" stroke="#777" stroke-width="1.15" stroke-linejoin="round"/>
<path d="M59.5,383.2 L59.5,399.5 L59.6,399.5 L59.6,400.9 L59.8,400.9 L59.8,401.9 L60.0,401.9 L60.0,402.9 L60.2,402.9 L60.2,403.6 L60.4,403.6 L60.4,404.9 L60.7,404.9 L60.7,405.8 L61.0,405.8 L61.0,407.0 L61.1,407.0 L61.1,408.3 L61.3,408.3 L61.3,409.0 L61.6,409.0 L61.6,410.2 L62.0,410.2 L62.0,411.5 L62.2,411.5 L62.2,412.7 L62.5,412.7 L62.5,413.9 L62.8,413.9 L62.8,414.7 L63.1,414.7 L63.1,415.5 L63.2,415.5 L63.2,417.4 L63.7,417.4 L63.7,418.5 L64.0,418.5 L64.0,419.4 L64.3,419.4 L64.3,420.3 L64.6,420.3 L64.6,422.0 L65.0,422.0 L65.0,422.9 L65.5,422.9 L65.5,424.0 L65.9,424.0 L65.9,424.9 L66.3,424.9 L66.3,426.2 L66.6,426.2 L66.6,427.8 L67.1,427.8 L67.1,428.3 L67.6,428.3 L67.6,429.5 L68.0,429.5 L68.0,431.1 L68.7,431.1 L68.7,432.2 L68.8,432.2 L68.8,433.1 L69.2,433.1 L69.2,434.5 L69.6,434.5 L69.6,435.3 L69.9,435.3 L69.9,436.5 L70.4,436.5 L70.4,437.9 L70.6,437.9 L70.6,438.7 L71.0,438.7 L71.0,439.9 L71.5,439.9 L71.5,441.0 L71.8,441.0 L71.8,442.0 L72.0,442.0 L72.0,442.9 L72.3,442.9 L72.3,444.2 L72.7,444.2 L72.7,445.0 L73.3,445.0 L73.3,446.6 L73.6,446.6 L73.6,447.8 L73.9,447.8 L73.9,449.0 L74.5,449.0 L74.5,449.7 L75.3,449.7 L75.3,451.3 L76.6,451.3 L76.6,452.3 L77.1,452.3 L77.1,453.2 L78.5,453.2 L78.5,454.8 L80.4,454.8 L80.4,455.6 L80.8,455.6 L80.8,457.1 L81.6,457.1 L81.6,457.8 L82.1,457.8 L82.1,458.7 L82.8,458.7 L82.8,459.9 L83.6,459.9 L83.6,461.1 L84.2,461.1 L84.2,462.8 L85.1,462.8 L85.1,463.6 L86.2,463.6 L86.2,464.9 L86.6,464.9 L86.6,465.7 L87.6,465.7 L87.6,466.9 L89.5,466.9 L89.5,468.1 L90.2,468.1 L90.2,469.7 L91.2,469.7 L91.2,470.4 L93.2,470.4 L93.2,471.9 L93.3,471.9 L93.3,473.3 L94.4,473.3 L94.4,473.7 L95.1,473.7 L95.1,475.0 L96.5,475.0 L96.5,476.0 L97.4,476.0 L97.4,477.6 L98.3,477.6 L98.3,478.4 L100.2,478.4 L100.2,479.6 L100.4,479.6 L100.4,480.6 L101.2,480.6 L101.2,481.6 L101.7,481.6 L101.7,483.2 L103.0,483.2 L103.0,484.0 L103.8,484.0 L103.8,484.7 L104.5,484.7 L104.5,485.9 L106.1,485.9 L106.1,487.1 L106.9,487.1 L106.9,488.1 L111.0,488.1 L111.0,489.5 L111.7,489.5 L111.7,490.1 L114.9,490.1 L114.9,490.8 L117.7,490.8 L117.7,491.8 L119.8,491.8 L119.8,492.7 L123.0,492.7 L123.0,493.5 L124.8,493.5 L124.8,494.3 L126.1,494.3 L126.1,494.8 L129.4,494.8 L129.4,495.3 L131.0,495.3 L131.0,496.9 L134.0,496.9 L134.0,498.0 L135.5,498.0 L135.5,498.9 L139.9,498.9 L139.9,500.4 L140.6,500.4 L140.6,501.2 L144.0,501.2 L144.0,501.6 L146.4,501.6 L146.4,502.4 L149.3,502.4 L149.3,503.0 L151.0,503.0 L151.0,504.1 L154.0,504.1 L154.0,505.0 L156.1,505.0 L156.1,506.0 L159.8,506.0 L159.8,507.0 L161.2,507.0 L161.2,507.5 L163.6,507.5 L163.6,507.9 L165.2,507.9 L165.2,508.1 L169.1,508.1 L169.1,508.6 L171.0,508.6 L171.0,508.7 L173.4,508.7 L173.4,508.9 L175.2,508.9 L175.2,509.0 L176.5,509.0 L176.5,509.0 L180.3,509.0 L180.3,509.2 L183.1,509.2 L183.1,509.3 L184.5,509.3 L184.5,509.7 L186.7,509.7 L186.7,509.8 L189.4,509.8 L189.4,510.2 L192.0,510.2 L192.0,510.3 L193.2,510.3 L193.2,510.7 L195.2,510.7 L195.2,511.0 L199.5,511.0 L199.5,511.2 L200.8,511.2 L200.8,512.1 L203.0,512.1 L203.0,513.0 L204.5,513.0 L204.5,513.8 L207.0,513.8 L207.0,515.0 L235.0,515.0 L236.6,515.0 L236.6,515.6 L238.5,515.6 L238.5,516.0 L241.9,516.0 L241.9,516.5 L245.0,516.5 L245.0,517.0 L245.4,517.0 L245.4,517.6 L247.6,517.6 L247.6,517.9 L250.6,517.9 L250.6,518.2 L252.7,518.2 L252.7,518.7 L256.0,518.7 L256.0,519.2 L257.6,519.2 L257.6,519.3 L259.5,519.3 L259.5,519.4 L261.0,519.4 L261.0,519.4 L264.7,519.4 L264.7,519.5 L267.0,519.5 L267.0,519.6 L268.2,519.6 L268.2,519.7 L271.2,519.7 L271.2,519.7 L273.3,519.7 L273.3,519.8 L276.3,519.8 L276.3,519.9 L277.9,519.9 L277.9,519.9 L280.1,519.9 L280.1,520.0 L282.8,520.0 L282.8,520.1 L285.9,520.1 L285.9,520.1 L286.8,520.1 L286.8,520.2 L291.0,520.2 L291.0,520.3 L291.6,520.3 L291.6,520.6 L295.3,520.6 L295.3,521.0 L296.5,521.0 L296.5,521.3 L298.9,521.3 L298.9,521.4 L301.9,521.4 L301.9,521.8 L304.1,521.8 L304.1,522.2 L308.0,522.2 L308.0,522.5 L309.1,522.5 L309.1,522.8 L311.7,522.8 L311.7,523.1 L313.6,523.1 L313.6,523.3 L315.2,523.3 L315.2,523.5 L317.7,523.5 L317.7,523.8 L320.9,523.8 L320.9,524.0 L322.4,524.0 L322.4,524.3 L326.0,524.3 L326.0,524.5 L364.7,524.5 L365.8,524.5 L365.8,524.5 L369.0,524.5 L369.0,524.6 L370.4,524.6 L370.4,524.7 L373.7,524.7 L373.7,524.8 L376.0,524.8 L376.0,524.8 L378.1,524.8 L378.1,524.9 L380.2,524.9 L380.2,524.9 L382.1,524.9 L382.1,525.0 L385.6,525.0 L385.6,525.1 L387.3,525.1 L387.3,525.1 L390.2,525.1 L390.2,525.2 L391.8,525.2 L391.8,525.2 L394.1,525.2 L394.1,525.3 L396.6,525.3 L396.6,525.4 L400.1,525.4 L400.1,525.4 L403.2,525.4 L403.2,525.5 L405.3,525.5 L405.3,526.0 L407.7,526.0 L407.7,526.5 L410.3,526.5 L410.3,526.7 L413.7,526.7 L413.7,527.3 L415.1,527.3 L415.1,527.7 L417.5,527.7 L417.5,527.8 L420.2,527.8 L420.2,528.2 L423.4,528.2 L423.4,528.5 L425.6,528.5 L425.6,528.9 L429.0,528.9 L429.0,529.1 L471.5,529.1" fill="none" stroke="#1a1a1a" stroke-width="1.25" stroke-linejoin="round"/>
<path d="M451.8,349.7 H462.2" stroke="#6a6a6a" stroke-width="1.0"/>
<text x="472.2" y="352.8" font-size="9.15" fill="#1a1a1a" stroke="#1a1a1a" stroke-width="0.22" text-anchor="start" xml:space="preserve">Men normal GI diet <tspan font-weight="bold">(Ref)</tspan></text>
<path d="M451.8,365.3 H462.2" stroke="#1a1a1a" stroke-width="1.3"/>
<text x="472.2" y="368.4" font-size="9.15" fill="#1a1a1a" stroke="#1a1a1a" stroke-width="0.22" text-anchor="start" xml:space="preserve">Men low GI diet <tspan font-weight="bold">FR (95% CI):  1.10 (0.93 - 1.29)</tspan></text>
<text x="76.6" y="574.0" font-size="9.7" fill="#111" stroke="#111" stroke-width="0.22" text-anchor="start" >Number at risk: n (%)</text>
<path d="M76.6,579.0 V613.0 H683.5" fill="none" stroke="#5a5a5a" stroke-width="1.1"/>
<path d="M74.3,588.0 H76.6" stroke="#5a5a5a" stroke-width="0.8"/>
<text x="73.0" y="590.6" font-size="7.25" fill="#999"  text-anchor="end" stroke="#999" stroke-width="0.1">Men normal GI diet</text>
<text x="103.7" y="591.5" font-size="7.75" fill="#999"  text-anchor="middle" stroke="#999" stroke-width="0.08">443 (100)</text>
<text x="158.8" y="591.5" font-size="7.75" fill="#999"  text-anchor="middle" stroke="#999" stroke-width="0.08">135 (30)</text>
<text x="214.0" y="591.5" font-size="7.75" fill="#999"  text-anchor="middle" stroke="#999" stroke-width="0.08">78 (18)</text>
<text x="269.1" y="591.5" font-size="7.75" fill="#999"  text-anchor="middle" stroke="#999" stroke-width="0.08">47 (11)</text>
<text x="324.2" y="591.5" font-size="7.75" fill="#999"  text-anchor="middle" stroke="#999" stroke-width="0.08">25 (6)</text>
<text x="379.3" y="591.5" font-size="7.75" fill="#999"  text-anchor="middle" stroke="#999" stroke-width="0.08">18 (4)</text>
<text x="434.5" y="591.5" font-size="7.75" fill="#999"  text-anchor="middle" stroke="#999" stroke-width="0.08">13 (3)</text>
<text x="489.6" y="591.5" font-size="7.75" fill="#999"  text-anchor="middle" stroke="#999" stroke-width="0.08">7 (2)</text>
<text x="544.7" y="591.5" font-size="7.75" fill="#999"  text-anchor="middle" stroke="#999" stroke-width="0.08">5 (1)</text>
<text x="599.9" y="591.5" font-size="7.75" fill="#999"  text-anchor="middle" stroke="#999" stroke-width="0.08">3 (1)</text>
<text x="655.0" y="591.5" font-size="7.75" fill="#999"  text-anchor="middle" stroke="#999" stroke-width="0.08">2 (0)</text>
<path d="M74.3,603.5 H76.6" stroke="#5a5a5a" stroke-width="0.8"/>
<text x="73.0" y="606.1" font-size="7.25" fill="#1a1a1a"  text-anchor="end" stroke="#1a1a1a" stroke-width="0.1">Men low GI diet</text>
<text x="103.7" y="606.6" font-size="7.75" fill="#1a1a1a"  text-anchor="middle" stroke="#1a1a1a" stroke-width="0.08">208 (100)</text>
<text x="158.8" y="606.6" font-size="7.75" fill="#1a1a1a"  text-anchor="middle" stroke="#1a1a1a" stroke-width="0.08">52 (25)</text>
<text x="214.0" y="606.6" font-size="7.75" fill="#1a1a1a"  text-anchor="middle" stroke="#1a1a1a" stroke-width="0.08">29 (14)</text>
<text x="269.1" y="606.6" font-size="7.75" fill="#1a1a1a"  text-anchor="middle" stroke="#1a1a1a" stroke-width="0.08">19 (9)</text>
<text x="324.2" y="606.6" font-size="7.75" fill="#1a1a1a"  text-anchor="middle" stroke="#1a1a1a" stroke-width="0.08">11 (5)</text>
<text x="379.3" y="606.6" font-size="7.75" fill="#1a1a1a"  text-anchor="middle" stroke="#1a1a1a" stroke-width="0.08">7 (3)</text>
<text x="434.5" y="606.6" font-size="7.75" fill="#1a1a1a"  text-anchor="middle" stroke="#1a1a1a" stroke-width="0.08">3 (1)</text>
<text x="489.6" y="606.6" font-size="7.75" fill="#1a1a1a"  text-anchor="middle" stroke="#1a1a1a" stroke-width="0.08">0 (0)</text>
<text x="544.7" y="606.6" font-size="7.75" fill="#1a1a1a"  text-anchor="middle" stroke="#1a1a1a" stroke-width="0.08">0 (0)</text>
<text x="599.9" y="606.6" font-size="7.75" fill="#1a1a1a"  text-anchor="middle" stroke="#1a1a1a" stroke-width="0.08">0 (0)</text>
<text x="655.0" y="606.6" font-size="7.75" fill="#1a1a1a"  text-anchor="middle" stroke="#1a1a1a" stroke-width="0.08">0 (0)</text>
<path d="M103.7,613.0 v1.9" stroke="#5a5a5a" stroke-width="0.8"/>
<text x="103.7" y="623.4" font-size="7.6" fill="#333" stroke="#333" stroke-width="0.22" text-anchor="middle" >0</text>
<path d="M158.8,613.0 v1.9" stroke="#5a5a5a" stroke-width="0.8"/>
<text x="158.8" y="623.4" font-size="7.6" fill="#333" stroke="#333" stroke-width="0.22" text-anchor="middle" >12</text>
<path d="M214.0,613.0 v1.9" stroke="#5a5a5a" stroke-width="0.8"/>
<text x="214.0" y="623.4" font-size="7.6" fill="#333" stroke="#333" stroke-width="0.22" text-anchor="middle" >24</text>
<path d="M269.1,613.0 v1.9" stroke="#5a5a5a" stroke-width="0.8"/>
<text x="269.1" y="623.4" font-size="7.6" fill="#333" stroke="#333" stroke-width="0.22" text-anchor="middle" >36</text>
<path d="M324.2,613.0 v1.9" stroke="#5a5a5a" stroke-width="0.8"/>
<text x="324.2" y="623.4" font-size="7.6" fill="#333" stroke="#333" stroke-width="0.22" text-anchor="middle" >48</text>
<path d="M379.3,613.0 v1.9" stroke="#5a5a5a" stroke-width="0.8"/>
<text x="379.3" y="623.4" font-size="7.6" fill="#333" stroke="#333" stroke-width="0.22" text-anchor="middle" >60</text>
<path d="M434.5,613.0 v1.9" stroke="#5a5a5a" stroke-width="0.8"/>
<text x="434.5" y="623.4" font-size="7.6" fill="#333" stroke="#333" stroke-width="0.22" text-anchor="middle" >72</text>
<path d="M489.6,613.0 v1.9" stroke="#5a5a5a" stroke-width="0.8"/>
<text x="489.6" y="623.4" font-size="7.6" fill="#333" stroke="#333" stroke-width="0.22" text-anchor="middle" >84</text>
<path d="M544.7,613.0 v1.9" stroke="#5a5a5a" stroke-width="0.8"/>
<text x="544.7" y="623.4" font-size="7.6" fill="#333" stroke="#333" stroke-width="0.22" text-anchor="middle" >96</text>
<path d="M599.9,613.0 v1.9" stroke="#5a5a5a" stroke-width="0.8"/>
<text x="599.9" y="623.4" font-size="7.6" fill="#333" stroke="#333" stroke-width="0.22" text-anchor="middle" >108</text>
<path d="M655.0,613.0 v1.9" stroke="#5a5a5a" stroke-width="0.8"/>
<text x="655.0" y="623.4" font-size="7.6" fill="#333" stroke="#333" stroke-width="0.22" text-anchor="middle" >120</text>
<text x="380.0" y="633.0" font-size="8.8" fill="#111" stroke="#111" stroke-width="0.22" text-anchor="middle" >Months (28 days)</text>
<text transform="translate(8.2,595.8) rotate(-90)" font-size="8.55" fill="#111" stroke="#111" stroke-width="0.3" text-anchor="middle">Strata</text>
<text x="22.8" y="673.9" font-size="20.0" fill="#1a1a1a"  text-anchor="start" stroke="#1a1a1a" stroke-width="0.95" stroke-linejoin="round">C</text>
<path d="M30.6,702.5 V863.7 H683.5" fill="none" stroke="#5a5a5a" stroke-width="1.1"/>
<path d="M28.2,856.3 H30.6" stroke="#5a5a5a" stroke-width="0.8"/>
<text x="26.0" y="858.9" font-size="7.25" fill="#333" stroke="#333" stroke-width="0.22" text-anchor="end" >0.00</text>
<path d="M28.2,819.6 H30.6" stroke="#5a5a5a" stroke-width="0.8"/>
<text x="26.0" y="822.2" font-size="7.25" fill="#333" stroke="#333" stroke-width="0.22" text-anchor="end" >0.25</text>
<path d="M28.2,783.0 H30.6" stroke="#5a5a5a" stroke-width="0.8"/>
<text x="26.0" y="785.6" font-size="7.25" fill="#333" stroke="#333" stroke-width="0.22" text-anchor="end" >0.50</text>
<path d="M28.2,746.4 H30.6" stroke="#5a5a5a" stroke-width="0.8"/>
<text x="26.0" y="749.0" font-size="7.25" fill="#333" stroke="#333" stroke-width="0.22" text-anchor="end" >0.75</text>
<path d="M28.2,709.7 H30.6" stroke="#5a5a5a" stroke-width="0.8"/>
<text x="26.0" y="712.3" font-size="7.25" fill="#333" stroke="#333" stroke-width="0.22" text-anchor="end" >1.00</text>
<path d="M59.6,863.7 v1.9" stroke="#5a5a5a" stroke-width="0.8"/>
<text x="59.6" y="873.5" font-size="7.6" fill="#333" stroke="#333" stroke-width="0.22" text-anchor="middle" >0</text>
<path d="M118.9,863.7 v1.9" stroke="#5a5a5a" stroke-width="0.8"/>
<text x="118.9" y="873.5" font-size="7.6" fill="#333" stroke="#333" stroke-width="0.22" text-anchor="middle" >12</text>
<path d="M178.3,863.7 v1.9" stroke="#5a5a5a" stroke-width="0.8"/>
<text x="178.3" y="873.5" font-size="7.6" fill="#333" stroke="#333" stroke-width="0.22" text-anchor="middle" >24</text>
<path d="M237.6,863.7 v1.9" stroke="#5a5a5a" stroke-width="0.8"/>
<text x="237.6" y="873.5" font-size="7.6" fill="#333" stroke="#333" stroke-width="0.22" text-anchor="middle" >36</text>
<path d="M297.0,863.7 v1.9" stroke="#5a5a5a" stroke-width="0.8"/>
<text x="297.0" y="873.5" font-size="7.6" fill="#333" stroke="#333" stroke-width="0.22" text-anchor="middle" >48</text>
<path d="M356.3,863.7 v1.9" stroke="#5a5a5a" stroke-width="0.8"/>
<text x="356.3" y="873.5" font-size="7.6" fill="#333" stroke="#333" stroke-width="0.22" text-anchor="middle" >60</text>
<path d="M415.6,863.7 v1.9" stroke="#5a5a5a" stroke-width="0.8"/>
<text x="415.6" y="873.5" font-size="7.6" fill="#333" stroke="#333" stroke-width="0.22" text-anchor="middle" >72</text>
<path d="M475.0,863.7 v1.9" stroke="#5a5a5a" stroke-width="0.8"/>
<text x="475.0" y="873.5" font-size="7.6" fill="#333" stroke="#333" stroke-width="0.22" text-anchor="middle" >84</text>
<path d="M534.3,863.7 v1.9" stroke="#5a5a5a" stroke-width="0.8"/>
<text x="534.3" y="873.5" font-size="7.6" fill="#333" stroke="#333" stroke-width="0.22" text-anchor="middle" >96</text>
<path d="M593.7,863.7 v1.9" stroke="#5a5a5a" stroke-width="0.8"/>
<text x="593.7" y="873.5" font-size="7.6" fill="#333" stroke="#333" stroke-width="0.22" text-anchor="middle" >108</text>
<path d="M653.0,863.7 v1.9" stroke="#5a5a5a" stroke-width="0.8"/>
<text x="653.0" y="873.5" font-size="7.6" fill="#333" stroke="#333" stroke-width="0.22" text-anchor="middle" >120</text>
<text x="356.5" y="883.5" font-size="8.8" fill="#111" stroke="#111" stroke-width="0.22" text-anchor="middle" >Months (28 days)</text>
<text transform="translate(8.8,782.2) rotate(-90)" font-size="8.97" fill="#111" stroke="#111" stroke-width="0.25" text-anchor="middle">Probability of not conceiving per month</text>
<path d="M59.6,709.6 L59.6,709.6 L59.6,710.5 L59.7,710.5 L59.7,711.7 L59.7,711.7 L59.7,713.3 L59.8,713.3 L59.8,714.3 L59.8,714.3 L59.8,714.9 L59.9,714.9 L59.9,716.6 L59.9,716.6 L59.9,717.2 L60.0,717.2 L60.0,718.7 L60.0,718.7 L60.0,719.4 L60.1,719.4 L60.1,720.4 L60.1,720.4 L60.1,722.2 L60.2,722.2 L60.2,722.8 L60.2,722.8 L60.2,724.0 L60.3,724.0 L60.3,725.7 L60.3,725.7 L60.3,726.7 L60.4,726.7 L60.4,727.4 L60.4,727.4 L60.4,729.0 L60.5,729.0 L60.5,729.8 L60.7,729.8 L60.7,731.0 L61.0,731.0 L61.0,731.9 L61.3,731.9 L61.3,732.9 L61.8,732.9 L61.8,734.4 L62.0,734.4 L62.0,735.3 L62.4,735.3 L62.4,736.2 L62.7,736.2 L62.7,737.4 L62.9,737.4 L62.9,738.7 L63.3,738.7 L63.3,739.3 L63.6,739.3 L63.6,741.1 L63.9,741.1 L63.9,741.5 L64.2,741.5 L64.2,743.1 L64.6,743.1 L64.6,744.3 L65.0,744.3 L65.0,744.7 L65.2,744.7 L65.2,746.4 L65.8,746.4 L65.8,747.3 L66.0,747.3 L66.0,748.4 L66.4,748.4 L66.4,749.7 L66.7,749.7 L66.7,750.2 L67.1,750.2 L67.1,751.8 L67.5,751.8 L67.5,752.9 L68.1,752.9 L68.1,754.0 L68.3,754.0 L68.3,754.5 L68.9,754.5 L68.9,756.3 L69.3,756.3 L69.3,756.7 L69.7,756.7 L69.7,757.9 L70.0,757.9 L70.0,759.2 L70.4,759.2 L70.4,760.5 L71.0,760.5 L71.0,761.3 L71.2,761.3 L71.2,762.2 L71.9,762.2 L71.9,763.2 L72.2,763.2 L72.2,765.0 L72.6,765.0 L72.6,765.8 L73.1,765.8 L73.1,766.8 L73.5,766.8 L73.5,767.8 L74.0,767.8 L74.0,769.2 L74.5,769.2 L74.5,770.5 L75.2,770.5 L75.2,771.3 L75.7,771.3 L75.7,772.4 L76.3,772.4 L76.3,773.6 L76.4,773.6 L76.4,775.0 L77.5,775.0 L77.5,775.9 L77.7,775.9 L77.7,777.1 L78.6,777.1 L78.6,777.7 L79.4,777.7 L79.4,779.0 L79.7,779.0 L79.7,779.9 L80.6,779.9 L80.6,781.5 L81.5,781.5 L81.5,782.3 L81.7,782.3 L81.7,783.2 L82.5,783.2 L82.5,784.3 L83.5,784.3 L83.5,785.2 L84.1,785.2 L84.1,786.4 L84.9,786.4 L84.9,788.0 L85.3,788.0 L85.3,789.0 L86.0,789.0 L86.0,789.8 L86.9,789.8 L86.9,790.8 L87.4,790.8 L87.4,791.7 L88.5,791.7 L88.5,792.9 L88.8,792.9 L88.8,794.3 L90.1,794.3 L90.1,795.5 L91.7,795.5 L91.7,796.6 L92.9,796.6 L92.9,797.7 L93.7,797.7 L93.7,798.9 L95.6,798.9 L95.6,799.9 L96.5,799.9 L96.5,801.4 L100.0,801.4 L100.0,802.6 L100.8,802.6 L100.8,803.7 L103.4,803.7 L103.4,804.7 L106.1,804.7 L106.1,805.3 L108.2,805.3 L108.2,806.7 L109.8,806.7 L109.8,807.5 L113.1,807.5 L113.1,808.8 L115.8,808.8 L115.8,809.7 L116.8,809.7 L116.8,810.6 L119.4,810.6 L119.4,811.9 L121.3,811.9 L121.3,813.1 L123.6,813.1 L123.6,814.2 L126.3,814.2 L126.3,815.0 L127.2,815.0 L127.2,815.6 L130.2,815.6 L130.2,816.1 L132.5,816.1 L132.5,816.5 L134.4,816.5 L134.4,817.4 L137.1,817.4 L137.1,818.0 L139.4,818.0 L139.4,818.3 L142.0,818.3 L142.0,818.9 L143.4,818.9 L143.4,819.7 L145.7,819.7 L145.7,820.4 L148.0,820.4 L148.0,821.2 L149.4,821.2 L149.4,822.1 L152.6,822.1 L152.6,822.8 L154.5,822.8 L154.5,823.6 L157.8,823.6 L157.8,824.2 L158.2,824.2 L158.2,824.6 L160.7,824.6 L160.7,825.5 L163.5,825.5 L163.5,826.0 L166.1,826.0 L166.1,826.6 L167.7,826.6 L167.7,827.3 L170.7,827.3 L170.7,828.0 L173.0,828.0 L173.0,828.6 L176.2,828.6 L176.2,829.4 L176.9,829.4 L176.9,830.0 L178.9,830.0 L178.9,830.2 L181.9,830.2 L181.9,830.9 L184.1,830.9 L184.1,831.3 L186.7,831.3 L186.7,831.9 L189.0,831.9 L189.0,832.3 L190.7,832.3 L190.7,833.0 L194.6,833.0 L194.6,833.4 L195.6,833.4 L195.6,833.9 L197.3,833.9 L197.3,834.2 L200.6,834.2 L200.6,834.8 L202.1,834.8 L202.1,835.2 L205.2,835.2 L205.2,835.5 L207.2,835.5 L207.2,835.9 L209.9,835.9 L209.9,836.5 L212.8,836.5 L212.8,836.9 L215.6,836.9 L215.6,837.3 L217.5,837.3 L217.5,837.6 L219.9,837.6 L219.9,837.8 L221.6,837.8 L221.6,838.2 L223.5,838.2 L223.5,838.5 L226.7,838.5 L226.7,838.7 L227.6,838.7 L227.6,839.0 L230.1,839.0 L230.1,839.3 L233.2,839.3 L233.2,839.6 L236.6,839.6 L236.6,839.9 L238.5,839.9 L238.5,840.4 L239.8,840.4 L239.8,840.6 L243.0,840.6 L243.0,841.0 L245.2,841.0 L245.2,841.3 L246.9,841.3 L246.9,841.9 L248.6,841.9 L248.6,842.1 L252.4,842.1 L252.4,842.5 L253.2,842.5 L253.2,842.7 L255.7,842.7 L255.7,842.9 L257.4,842.9 L257.4,843.0 L260.5,843.0 L260.5,843.3 L262.5,843.3 L262.5,843.5 L264.5,843.5 L264.5,843.8 L268.2,843.8 L268.2,843.9 L270.0,843.9 L270.0,844.9 L271.6,844.9 L271.6,845.0 L273.1,845.0 L273.1,845.0 L275.4,845.0 L275.4,845.1 L277.6,845.1 L277.6,845.1 L281.2,845.1 L281.2,845.2 L282.4,845.2 L282.4,845.2 L285.3,845.2 L285.3,845.3 L287.4,845.3 L287.4,845.3 L290.9,845.3 L290.9,845.4 L291.9,845.4 L291.9,846.1 L296.6,846.1 L296.6,846.8 L297.7,846.8 L297.7,847.3 L299.9,847.3 L299.9,847.6 L302.9,847.6 L302.9,848.1 L306.0,848.1 L306.0,848.7 L321.2,848.7 L322.1,848.7 L322.1,849.4 L325.0,849.4 L325.0,849.8 L326.8,849.8 L326.8,849.8 L328.6,849.8 L328.6,849.9 L330.1,849.9 L330.1,849.9 L333.8,849.9 L333.8,849.9 L335.5,849.9 L335.5,849.9 L338.2,849.9 L338.2,850.0 L340.7,850.0 L340.7,850.0 L343.0,850.0 L343.0,850.0 L345.1,850.0 L345.1,850.0 L348.2,850.0 L348.2,850.1 L349.7,850.1 L349.7,850.1 L352.1,850.1 L352.1,850.1 L355.2,850.1 L355.2,850.1 L356.5,850.1 L356.5,850.2 L359.0,850.2 L359.0,850.2 L362.3,850.2 L362.3,850.2 L363.4,850.2 L363.4,850.3 L367.0,850.3 L367.0,850.3 L370.0,850.3 L370.0,850.3 L370.4,850.3 L370.4,850.3 L374.0,850.3 L374.0,850.3 L376.8,850.3 L376.8,850.4 L379.3,850.4 L379.3,850.4 L381.2,850.4 L381.2,850.4 L382.5,850.4 L382.5,850.4 L386.3,850.4 L386.3,850.4 L387.6,850.4 L387.6,850.4 L390.8,850.4 L390.8,850.5 L393.7,850.5 L393.7,850.5 L395.7,850.5 L395.7,850.5 L397.1,850.5 L397.1,850.5 L399.8,850.5 L399.8,850.5 L403.3,850.5 L403.3,850.6 L404.4,850.6 L404.4,850.6 L408.6,850.6 L408.6,850.6 L410.8,850.6 L410.8,851.6 L421.7,851.6 L425.0,851.6 L425.0,852.7 L448.0,852.7 L450.2,852.7 L450.2,853.6 L514.8,853.6 L515.4,853.6 L515.4,854.4 L517.0,854.4 L517.0,855.3 L685.0,855.3" fill="none" stroke="#999" stroke-width="1.0" stroke-linejoin="round"/>
<path d="M59.6,709.6 L59.6,709.6 L59.6,711.0 L59.7,711.0 L59.7,711.7 L59.7,711.7 L59.7,713.2 L59.8,713.2 L59.8,714.3 L59.8,714.3 L59.8,715.5 L59.9,715.5 L59.9,716.2 L59.9,716.2 L59.9,717.2 L60.0,717.2 L60.0,718.8 L60.0,718.8 L60.0,720.0 L60.1,720.0 L60.1,720.8 L60.1,720.8 L60.1,721.7 L60.2,721.7 L60.2,722.9 L60.2,722.9 L60.2,724.3 L60.2,724.3 L60.2,725.2 L60.3,725.2 L60.3,726.9 L60.3,726.9 L60.3,727.7 L60.4,727.7 L60.4,728.5 L60.4,728.5 L60.4,730.0 L60.5,730.0 L60.5,731.0 L60.6,731.0 L60.6,732.2 L60.9,732.2 L60.9,733.0 L61.1,733.0 L61.1,734.5 L61.3,734.5 L61.3,735.4 L61.5,735.4 L61.5,736.4 L61.7,736.4 L61.7,737.8 L62.0,737.8 L62.0,738.6 L62.2,738.6 L62.2,739.8 L62.3,739.8 L62.3,741.5 L62.6,741.5 L62.6,742.5 L62.8,742.5 L62.8,743.1 L63.0,743.1 L63.0,744.8 L63.2,744.8 L63.2,745.3 L63.4,745.3 L63.4,746.7 L63.7,746.7 L63.7,748.3 L64.0,748.3 L64.0,749.1 L64.2,749.1 L64.2,750.5 L64.5,750.5 L64.5,751.5 L64.9,751.5 L64.9,752.8 L65.3,752.8 L65.3,753.5 L65.6,753.5 L65.6,755.0 L66.2,755.0 L66.2,756.1 L66.3,756.1 L66.3,757.0 L66.8,757.0 L66.8,758.0 L67.3,758.0 L67.3,759.4 L67.6,759.4 L67.6,760.2 L68.1,760.2 L68.1,761.1 L68.3,761.1 L68.3,762.8 L68.9,762.8 L68.9,763.5 L69.3,763.5 L69.3,764.8 L69.6,764.8 L69.6,766.2 L70.2,766.2 L70.2,767.0 L70.5,767.0 L70.5,767.9 L71.0,767.9 L71.0,769.1 L71.6,769.1 L71.6,770.2 L72.3,770.2 L72.3,771.0 L72.7,771.0 L72.7,772.2 L73.2,772.2 L73.2,773.3 L73.9,773.3 L73.9,774.7 L74.6,774.7 L74.6,775.4 L74.9,775.4 L74.9,776.8 L75.5,776.8 L75.5,778.1 L76.3,778.1 L76.3,778.8 L77.0,778.8 L77.0,780.0 L77.5,780.0 L77.5,781.4 L78.5,781.4 L78.5,782.7 L79.2,782.7 L79.2,783.3 L80.1,783.3 L80.1,784.2 L81.5,784.2 L81.5,785.8 L81.9,785.8 L81.9,786.5 L82.5,786.5 L82.5,787.7 L83.4,787.7 L83.4,789.3 L84.7,789.3 L84.7,790.1 L85.2,790.1 L85.2,791.0 L86.5,791.0 L86.5,792.4 L87.1,792.4 L87.1,793.5 L88.4,793.5 L88.4,794.3 L89.2,794.3 L89.2,795.3 L90.3,795.3 L90.3,796.4 L90.6,796.4 L90.6,797.2 L91.9,797.2 L91.9,798.7 L92.9,798.7 L92.9,799.4 L94.5,799.4 L94.5,800.5 L95.6,800.5 L95.6,802.0 L97.3,802.0 L97.3,803.0 L100.0,803.0 L100.0,803.5 L101.0,803.5 L101.0,804.8 L103.9,804.8 L103.9,805.3 L105.7,805.3 L105.7,806.7 L107.9,806.7 L107.9,807.9 L109.3,807.9 L109.3,809.0 L113.1,809.0 L113.1,809.7 L115.1,809.7 L115.1,810.1 L116.9,810.1 L116.9,810.3 L120.0,810.3 L120.0,810.8 L123.6,810.8 L123.6,811.0 L124.3,811.0 L124.3,812.3 L124.9,812.3 L124.9,812.9 L126.0,812.9 L126.0,814.5 L126.7,814.5 L126.7,815.8 L127.4,815.8 L127.4,816.3 L128.9,816.3 L128.9,817.6 L130.7,817.6 L130.7,818.1 L131.6,818.1 L131.6,818.2 L135.1,818.2 L135.1,818.6 L136.5,818.6 L136.5,819.2 L139.8,819.2 L139.8,819.5 L141.2,819.5 L141.2,819.8 L144.7,819.8 L144.7,820.2 L145.1,820.2 L145.1,820.7 L147.7,820.7 L147.7,821.2 L150.3,821.2 L150.3,822.1 L152.1,822.1 L152.1,822.4 L156.0,822.4 L156.0,823.2 L158.0,823.2 L158.0,823.7 L160.6,823.7 L160.6,824.3 L162.5,824.3 L162.5,824.7 L165.7,824.7 L165.7,825.5 L166.1,825.5 L166.1,826.3 L168.9,826.3 L168.9,827.4 L170.3,827.4 L170.3,828.4 L173.1,828.4 L173.1,829.7 L176.2,829.7 L176.2,830.7 L177.2,830.7 L177.2,831.0 L179.2,831.0 L179.2,831.3 L181.5,831.3 L181.5,831.7 L184.4,831.7 L184.4,832.1 L187.2,832.1 L187.2,832.4 L188.7,832.4 L188.7,832.7 L190.6,832.7 L190.6,833.0 L194.6,833.0 L194.6,833.4 L195.7,833.4 L195.7,834.7 L198.4,834.7 L198.4,835.4 L201.0,835.4 L201.0,836.4 L205.1,836.4 L205.1,837.3 L206.6,837.3 L206.6,838.0 L208.8,838.0 L208.8,838.5 L211.3,838.5 L211.3,839.1 L212.9,839.1 L212.9,839.7 L215.7,839.7 L215.7,840.7 L218.5,840.7 L218.5,841.0 L219.5,841.0 L219.5,841.9 L223.5,841.9 L223.5,842.5 L224.0,842.5 L224.0,842.6 L226.8,842.6 L226.8,842.8 L228.6,842.8 L228.6,843.0 L231.8,843.0 L231.8,843.0 L234.6,843.0 L234.6,843.2 L236.0,843.2 L236.0,843.3 L238.9,843.3 L238.9,843.4 L241.9,843.4 L241.9,843.7 L243.2,843.7 L243.2,843.7 L247.1,843.7 L247.1,843.9 L248.9,843.9 L248.9,844.3 L250.9,844.3 L250.9,844.6 L253.0,844.6 L253.0,845.1 L255.4,845.1 L255.4,845.5 L257.5,845.5 L257.5,845.8 L259.2,845.8 L259.2,846.1 L262.9,846.1 L262.9,846.5 L264.2,846.5 L264.2,847.2 L266.0,847.2 L266.0,847.8 L270.0,847.8 L270.0,848.3 L272.0,848.3 L272.0,848.4 L273.9,848.4 L273.9,848.4 L276.2,848.4 L276.2,848.4 L278.7,848.4 L278.7,848.5 L279.9,848.5 L279.9,848.5 L283.1,848.5 L283.1,848.6 L284.5,848.6 L284.5,848.6 L287.4,848.6 L287.4,848.7 L289.3,848.7 L289.3,848.7 L293.0,848.7 L293.0,848.7 L293.9,848.7 L293.9,848.8 L297.7,848.8 L297.7,848.8 L300.1,848.8 L300.1,848.9 L301.6,848.9 L301.6,848.9 L304.6,848.9 L304.6,848.9 L305.7,848.9 L305.7,849.0 L308.1,849.0 L308.1,849.0 L310.3,849.0 L310.3,849.1 L312.7,849.1 L312.7,849.1 L315.0,849.1 L315.0,849.2 L319.3,849.2 L319.3,849.2 L321.4,849.2 L321.4,850.0 L323.7,850.0 L323.7,850.6 L327.0,850.6 L327.0,851.7 L365.0,851.7 L390.0,852.0 L391.3,852.0 L391.3,852.0 L393.5,852.0 L393.5,852.1 L396.4,852.1 L396.4,852.2 L398.2,852.2 L398.2,852.3 L400.8,852.3 L400.8,852.3 L403.3,852.3 L403.3,852.3 L405.1,852.3 L405.1,852.4 L408.1,852.4 L408.1,852.5 L410.5,852.5 L410.5,852.5 L411.6,852.5 L411.6,852.6 L415.2,852.6 L415.2,852.7 L417.4,852.7 L417.4,852.7 L419.7,852.7 L419.7,852.8 L421.2,852.8 L421.2,852.8 L425.0,852.8 L425.0,852.9 L448.0,852.9 L450.2,852.9 L450.2,853.7 L563.0,853.7 L566.4,853.7 L566.4,855.1 L685.0,855.1" fill="none" stroke="#686868" stroke-width="1.05" stroke-linejoin="round"/>
<path d="M59.6,709.6 L59.6,709.6 L59.6,710.3 L59.7,710.3 L59.7,712.0 L59.8,712.0 L59.8,712.7 L59.9,712.7 L59.9,713.6 L60.0,713.6 L60.0,714.7 L60.0,714.7 L60.0,715.9 L60.1,715.9 L60.1,717.4 L60.2,717.4 L60.2,718.0 L60.3,718.0 L60.3,719.4 L60.4,719.4 L60.4,720.5 L60.4,720.5 L60.4,721.4 L60.5,721.4 L60.5,722.6 L60.6,722.6 L60.6,723.3 L60.7,723.3 L60.7,724.3 L60.8,724.3 L60.8,725.5 L60.9,725.5 L60.9,727.0 L61.0,727.0 L61.0,727.9 L61.1,727.9 L61.1,728.9 L61.1,728.9 L61.1,730.1 L61.2,730.1 L61.2,731.1 L61.3,731.1 L61.3,732.1 L61.4,732.1 L61.4,733.3 L61.8,733.3 L61.8,734.6 L62.2,734.6 L62.2,735.4 L62.6,735.4 L62.6,737.1 L63.2,737.1 L63.2,737.5 L63.7,737.5 L63.7,738.9 L64.3,738.9 L64.3,740.3 L64.9,740.3 L64.9,741.2 L65.1,741.2 L65.1,742.4 L65.8,742.4 L65.8,743.5 L66.2,743.5 L66.2,744.6 L67.1,744.6 L67.1,746.0 L67.8,746.0 L67.8,747.3 L68.3,747.3 L68.3,748.0 L69.0,748.0 L69.0,749.3 L69.4,749.3 L69.4,750.0 L70.2,750.0 L70.2,751.6 L71.0,751.6 L71.0,752.6 L71.2,752.6 L71.2,753.4 L71.5,753.4 L71.5,754.7 L71.7,754.7 L71.7,755.9 L71.9,755.9 L71.9,757.4 L72.2,757.4 L72.2,758.0 L72.5,758.0 L72.5,759.4 L72.7,759.4 L72.7,760.6 L73.0,760.6 L73.0,762.0 L73.2,762.0 L73.2,763.1 L73.5,763.1 L73.5,764.3 L73.7,764.3 L73.7,764.9 L74.1,764.9 L74.1,766.2 L74.5,766.2 L74.5,767.4 L75.0,767.4 L75.0,768.2 L76.8,768.2 L76.8,769.4 L78.2,769.4 L78.2,770.5 L79.8,770.5 L79.8,771.8 L80.0,771.8 L80.0,772.9 L80.7,772.9 L80.7,774.0 L81.3,774.0 L81.3,775.4 L81.7,775.4 L81.7,776.8 L82.2,776.8 L82.2,777.8 L83.3,777.8 L83.3,778.8 L83.4,778.8 L83.4,780.1 L83.6,780.1 L83.6,780.9 L83.9,780.9 L83.9,782.0 L84.0,782.0 L84.0,782.9 L84.3,782.9 L84.3,784.4 L84.5,784.4 L84.5,785.1 L84.7,785.1 L84.7,786.2 L85.0,786.2 L85.0,787.6 L85.4,787.6 L85.4,788.4 L86.6,788.4 L86.6,789.7 L88.0,789.7 L88.0,790.6 L89.0,790.6 L89.0,792.4 L90.2,792.4 L90.2,793.3 L91.6,793.3 L91.6,794.1 L93.8,794.1 L93.8,795.5 L94.1,795.5 L94.1,796.9 L95.3,796.9 L95.3,798.1 L96.3,798.1 L96.3,798.8 L97.2,798.8 L97.2,799.9 L99.1,799.9 L99.1,801.0 L100.0,801.0 L100.0,801.8 L100.2,801.8 L100.2,802.6 L101.3,802.6 L101.3,803.9 L102.5,803.9 L102.5,804.6 L103.5,804.6 L103.5,806.0 L105.0,806.0 L105.0,807.4 L105.5,807.4 L105.5,808.4 L106.5,808.4 L106.5,809.3 L108.2,809.3 L108.2,810.0 L108.9,810.0 L108.9,811.2 L110.5,811.2 L110.5,812.3 L110.8,812.3 L110.8,813.2 L112.3,813.2 L112.3,814.2 L113.2,814.2 L113.2,815.7 L114.4,815.7 L114.4,816.9 L115.8,816.9 L115.8,817.6 L117.8,817.6 L117.8,818.2 L120.3,818.2 L120.3,819.2 L122.9,819.2 L122.9,819.9 L125.4,819.9 L125.4,820.5 L128.9,820.5 L128.9,821.5 L129.3,821.5 L129.3,822.6 L132.4,822.6 L132.4,823.1 L135.0,823.1 L135.0,824.1 L138.4,824.1 L138.4,825.0 L142.0,825.0 L142.0,825.5 L143.7,825.5 L143.7,826.3 L145.0,826.3 L145.0,827.4 L146.8,827.4 L146.8,828.7 L148.9,828.7 L148.9,830.0 L152.5,830.0 L152.5,830.7 L154.2,830.7 L154.2,830.9 L155.9,830.9 L155.9,831.1 L158.4,831.1 L158.4,831.3 L160.9,831.3 L160.9,831.4 L162.0,831.4 L162.0,831.6 L165.2,831.6 L165.2,831.9 L168.3,831.9 L168.3,832.0 L205.0,832.0 L206.0,832.0 L206.0,832.7 L209.5,832.7 L209.5,833.5 L212.5,833.5 L212.5,834.7 L215.6,834.7 L215.6,835.2 L217.2,835.2 L217.2,835.3 L218.6,835.3 L218.6,835.5 L221.0,835.5 L221.0,835.6 L223.4,835.6 L223.4,835.7 L227.0,835.7 L227.0,836.0 L229.3,836.0 L229.3,836.1 L230.5,836.1 L230.5,836.2 L234.1,836.2 L234.1,836.4 L236.7,836.4 L236.7,836.5 L238.6,836.5 L238.6,836.7 L241.9,836.7 L241.9,836.8 L243.8,836.8 L243.8,837.5 L245.3,837.5 L245.3,838.6 L248.0,838.6 L248.0,839.3 L250.7,839.3 L250.7,840.3 L255.0,840.3 L255.0,841.2 L255.6,841.2 L255.6,841.7 L259.5,841.7 L259.5,841.9 L261.0,841.9 L261.0,842.5 L263.7,842.5 L263.7,842.7 L266.4,842.7 L266.4,843.1 L270.0,843.1 L270.0,843.5 L290.9,843.5 L291.6,843.5 L291.6,844.3 L293.7,844.3 L293.7,846.0 L294.7,846.0 L294.7,846.1 L296.4,846.1 L296.4,846.2 L298.3,846.2 L298.3,846.3 L302.3,846.3 L302.3,846.4 L305.1,846.4 L305.1,847.9 L319.3,847.9 L322.2,847.9 L322.2,849.2 L323.8,849.2 L323.8,849.3 L325.8,849.3 L325.8,849.3 L327.8,849.3 L327.8,849.4 L330.5,849.4 L330.5,849.4 L333.0,849.4 L333.0,849.5 L335.7,849.5 L335.7,849.6 L337.0,849.6 L337.0,849.6 L340.1,849.6 L340.1,849.7 L341.9,849.7 L341.9,849.7 L345.9,849.7 L345.9,849.8 L408.6,850.0 L410.8,850.0 L410.8,851.4 L421.7,851.4 L425.0,851.4 L425.0,852.5 L427.5,852.5 L428.0,852.5 L428.0,853.9 L429.4,853.9 L429.4,854.9 L471.5,854.9" fill="none" stroke="#383838" stroke-width="1.15" stroke-linejoin="round"/>
<path d="M59.6,709.6 L59.6,729.8 L59.7,729.8 L59.7,730.7 L60.0,730.7 L60.0,731.6 L60.1,731.6 L60.1,732.9 L60.4,732.9 L60.4,734.1 L60.5,734.1 L60.5,735.6 L60.8,735.6 L60.8,736.3 L61.1,736.3 L61.1,737.2 L61.2,737.2 L61.2,738.4 L61.5,738.4 L61.5,740.0 L61.7,740.0 L61.7,740.4 L61.9,740.4 L61.9,741.9 L62.1,741.9 L62.1,742.8 L62.3,742.8 L62.3,744.1 L62.6,744.1 L62.6,745.0 L62.7,745.0 L62.7,746.4 L63.1,746.4 L63.1,747.3 L63.3,747.3 L63.3,748.3 L63.6,748.3 L63.6,749.4 L64.0,749.4 L64.0,751.0 L64.2,751.0 L64.2,751.5 L64.4,751.5 L64.4,753.2 L64.7,753.2 L64.7,753.8 L65.2,753.8 L65.2,755.4 L65.5,755.4 L65.5,756.5 L65.7,756.5 L65.7,757.8 L66.2,757.8 L66.2,758.9 L66.4,758.9 L66.4,759.7 L66.8,759.7 L66.8,760.6 L67.1,760.6 L67.1,761.7 L67.5,761.7 L67.5,763.1 L67.7,763.1 L67.7,764.1 L68.1,764.1 L68.1,765.5 L68.4,765.5 L68.4,766.6 L69.0,766.6 L69.0,767.2 L69.3,767.2 L69.3,768.4 L69.8,768.4 L69.8,769.3 L70.1,769.3 L70.1,770.8 L70.5,770.8 L70.5,772.1 L70.8,772.1 L70.8,772.6 L71.3,772.6 L71.3,774.1 L71.7,774.1 L71.7,774.8 L72.2,774.8 L72.2,775.7 L72.8,775.7 L72.8,777.1 L73.1,777.1 L73.1,778.1 L73.4,778.1 L73.4,779.3 L73.8,779.3 L73.8,780.2 L74.3,780.2 L74.3,781.1 L74.7,781.1 L74.7,782.2 L75.2,782.2 L75.2,783.3 L75.6,783.3 L75.6,784.7 L76.3,784.7 L76.3,785.8 L76.9,785.8 L76.9,786.6 L78.8,786.6 L78.8,787.8 L79.9,787.8 L79.9,789.1 L81.6,789.1 L81.6,790.4 L83.3,790.4 L83.3,791.8 L85.0,791.8 L85.0,792.9 L85.6,792.9 L85.6,794.1 L86.2,794.1 L86.2,795.4 L87.5,795.4 L87.5,796.1 L87.8,796.1 L87.8,796.9 L89.2,796.9 L89.2,798.5 L89.7,798.5 L89.7,799.2 L91.0,799.2 L91.0,799.9 L91.3,799.9 L91.3,801.4 L92.8,801.4 L92.8,802.3 L93.8,802.3 L93.8,803.4 L94.8,803.4 L94.8,803.7 L96.4,803.7 L96.4,804.2 L100.0,804.2 L100.0,804.5 L100.3,804.5 L100.3,805.3 L100.8,805.3 L100.8,806.9 L101.6,806.9 L101.6,807.9 L102.4,807.9 L102.4,809.0 L103.1,809.0 L103.1,809.6 L103.6,809.6 L103.6,810.9 L104.2,810.9 L104.2,812.1 L104.9,812.1 L104.9,812.9 L105.5,812.9 L105.5,814.7 L106.1,814.7 L106.1,815.6 L106.9,815.6 L106.9,816.5 L107.9,816.5 L107.9,817.6 L109.2,817.6 L109.2,818.6 L110.4,818.6 L110.4,819.7 L112.5,819.7 L112.5,820.6 L115.8,820.6 L115.8,821.5 L116.1,821.5 L116.1,822.1 L119.3,822.1 L119.3,822.9 L122.0,822.9 L122.0,823.8 L124.0,823.8 L124.0,824.8 L126.6,824.8 L126.6,825.2 L128.9,825.2 L128.9,826.3 L131.5,826.3 L131.5,826.8 L133.2,826.8 L133.2,827.0 L134.9,827.0 L134.9,827.1 L137.3,827.1 L137.3,827.3 L140.1,827.3 L140.1,827.6 L142.1,827.6 L142.1,827.8 L143.6,827.8 L143.6,827.9 L147.3,827.9 L147.3,828.1 L148.0,828.1 L148.0,829.5 L150.3,829.5 L150.3,830.4 L152.4,830.4 L152.4,831.4 L154.1,831.4 L154.1,832.6 L156.3,832.6 L156.3,833.7 L157.9,833.7 L157.9,834.9 L160.4,834.9 L160.4,836.0 L162.1,836.0 L162.1,836.4 L163.5,836.4 L163.5,836.6 L165.5,836.6 L165.5,836.9 L168.8,836.9 L168.8,837.4 L170.4,837.4 L170.4,837.6 L172.9,837.6 L172.9,837.9 L174.7,837.9 L174.7,838.4 L178.8,838.4 L178.8,838.6 L179.8,838.6 L179.8,839.1 L182.0,839.1 L182.0,839.4 L185.2,839.4 L185.2,839.8 L187.2,839.8 L187.2,840.1 L189.3,840.1 L189.3,840.5 L190.8,840.5 L190.8,840.9 L194.6,840.9 L194.6,841.2 L195.6,841.2 L195.6,841.8 L198.2,841.8 L198.2,843.0 L200.7,843.0 L200.7,843.9 L203.3,843.9 L203.3,844.4 L205.4,844.4 L205.4,845.5 L207.5,845.5 L207.5,846.7 L210.4,846.7 L210.4,847.3 L236.6,847.3 L238.7,847.3 L238.7,847.7 L241.3,847.7 L241.3,848.2 L242.4,848.2 L242.4,848.5 L247.1,848.5 L247.1,848.9 L247.9,848.9 L247.9,849.0 L249.8,849.0 L249.8,849.0 L253.4,849.0 L253.4,849.0 L255.6,849.0 L255.6,849.1 L257.5,849.1 L257.5,849.1 L259.3,849.1 L259.3,849.2 L262.9,849.2 L262.9,849.2 L263.9,849.2 L263.9,849.2 L266.2,849.2 L266.2,849.3 L268.9,849.3 L268.9,849.3 L270.6,849.3 L270.6,849.3 L274.0,849.3 L274.0,849.4 L275.8,849.4 L275.8,849.4 L277.9,849.4 L277.9,849.4 L280.4,849.4 L280.4,849.5 L283.1,849.5 L283.1,849.5 L285.5,849.5 L285.5,849.5 L288.5,849.5 L288.5,849.6 L289.8,849.6 L289.8,849.6 L292.4,849.6 L292.4,849.6 L294.9,849.6 L294.9,849.7 L297.1,849.7 L297.1,849.7 L300.4,849.7 L300.4,849.7 L301.8,849.7 L301.8,849.8 L306.0,849.8 L306.0,849.8 L308.0,849.8 L308.0,850.6 L309.7,850.6 L309.7,850.7 L310.9,850.7 L310.9,850.7 L314.7,850.7 L314.7,850.8 L316.6,850.8 L316.6,850.9 L319.1,850.9 L319.1,851.0 L321.2,851.0 L321.2,851.1 L325.0,851.1 L325.0,851.1 L327.0,851.1 L327.0,852.5 L385.8,852.5 L388.6,852.5 L388.6,853.6 L402.0,853.6 L402.5,853.6 L402.5,854.5 L404.2,854.5 L404.2,855.5 L412.5,855.5" fill="none" stroke="#111" stroke-width="1.3" stroke-linejoin="round"/>
<path d="M367.3,676.9 H379" stroke="#a0a0a0" stroke-width="1.0"/>
<text x="387.2" y="680.0" font-size="8.7" fill="#1a1a1a" stroke="#1a1a1a" stroke-width="0.22" text-anchor="start" xml:space="preserve">Both partners normal GI diet <tspan font-weight="bold">(Ref)</tspan></text>
<path d="M367.3,691.5 H379" stroke="#6a6a6a" stroke-width="1.1"/>
<text x="387.2" y="694.6" font-size="8.7" fill="#1a1a1a" stroke="#1a1a1a" stroke-width="0.22" text-anchor="start" xml:space="preserve">Women low GI diet &amp; men normal GI diet <tspan font-weight="bold">FR (95% CI):  1.03 (0.84 - 1.25)</tspan></text>
<path d="M367.3,706.4 H379" stroke="#3a3a3a" stroke-width="1.2"/>
<text x="387.2" y="709.5" font-size="8.7" fill="#1a1a1a" stroke="#1a1a1a" stroke-width="0.22" text-anchor="start" xml:space="preserve">Women normal GI diet &amp; men low GI diet <tspan font-weight="bold">FR (95% CI):  1.00 (0.80 - 1.27)</tspan></text>
<path d="M367.3,721.3 H379" stroke="#111" stroke-width="1.5"/>
<text x="387.2" y="724.4" font-size="8.7" fill="#1a1a1a" stroke="#1a1a1a" stroke-width="0.22" text-anchor="start" xml:space="preserve">Both partners low GI diet <tspan font-weight="bold">FR (95% CI):  1.20 (0.97 - 1.49)</tspan></text>
<text x="147.0" y="900.5" font-size="9.7" fill="#111" stroke="#111" stroke-width="0.22" text-anchor="start" >Number at risk: n (%)</text>
<path d="M147.0,905.0 V940.0 H683.5" fill="none" stroke="#5a5a5a" stroke-width="1.1"/>
<path d="M144.7,910.6 H147.0" stroke="#5a5a5a" stroke-width="0.8"/>
<text x="144.7" y="913.2" font-size="7.25" fill="#b5b5b5"  text-anchor="end" stroke="#b5b5b5" stroke-width="0.1">Both partners normal GI diet</text>
<text x="170.3" y="914.0" font-size="7.75" fill="#b5b5b5"  text-anchor="middle" stroke="#b5b5b5" stroke-width="0.08">297 (100)</text>
<text x="219.1" y="914.0" font-size="7.75" fill="#b5b5b5"  text-anchor="middle" stroke="#b5b5b5" stroke-width="0.08">90 (30)</text>
<text x="267.9" y="914.0" font-size="7.75" fill="#b5b5b5"  text-anchor="middle" stroke="#b5b5b5" stroke-width="0.08">52 (18)</text>
<text x="316.6" y="914.0" font-size="7.75" fill="#b5b5b5"  text-anchor="middle" stroke="#b5b5b5" stroke-width="0.08">34 (11)</text>
<text x="365.4" y="914.0" font-size="7.75" fill="#b5b5b5"  text-anchor="middle" stroke="#b5b5b5" stroke-width="0.08">19 (6)</text>
<text x="414.2" y="914.0" font-size="7.75" fill="#b5b5b5"  text-anchor="middle" stroke="#b5b5b5" stroke-width="0.08">12 (4)</text>
<text x="463.0" y="914.0" font-size="7.75" fill="#b5b5b5"  text-anchor="middle" stroke="#b5b5b5" stroke-width="0.08">9 (3)</text>
<text x="511.8" y="914.0" font-size="7.75" fill="#b5b5b5"  text-anchor="middle" stroke="#b5b5b5" stroke-width="0.08">4 (1)</text>
<text x="560.5" y="914.0" font-size="7.75" fill="#b5b5b5"  text-anchor="middle" stroke="#b5b5b5" stroke-width="0.08">2 (1)</text>
<text x="609.3" y="914.0" font-size="7.75" fill="#b5b5b5"  text-anchor="middle" stroke="#b5b5b5" stroke-width="0.08">1 (0)</text>
<text x="658.1" y="914.0" font-size="7.75" fill="#b5b5b5"  text-anchor="middle" stroke="#b5b5b5" stroke-width="0.08">1 (0)</text>
<path d="M144.7,918.6 H147.0" stroke="#5a5a5a" stroke-width="0.8"/>
<text x="144.7" y="921.2" font-size="7.25" fill="#808080"  text-anchor="end" stroke="#808080" stroke-width="0.1">Women low GI diet &amp; men normal GI diet</text>
<text x="170.3" y="922.3" font-size="7.75" fill="#808080"  text-anchor="middle" stroke="#808080" stroke-width="0.08">146 (100)</text>
<text x="219.1" y="922.3" font-size="7.75" fill="#808080"  text-anchor="middle" stroke="#808080" stroke-width="0.08">45 (31)</text>
<text x="267.9" y="922.3" font-size="7.75" fill="#808080"  text-anchor="middle" stroke="#808080" stroke-width="0.08">26 (18)</text>
<text x="316.6" y="922.3" font-size="7.75" fill="#808080"  text-anchor="middle" stroke="#808080" stroke-width="0.08">13 (9)</text>
<text x="365.4" y="922.3" font-size="7.75" fill="#808080"  text-anchor="middle" stroke="#808080" stroke-width="0.08">6 (4)</text>
<text x="414.2" y="922.3" font-size="7.75" fill="#808080"  text-anchor="middle" stroke="#808080" stroke-width="0.08">6 (4)</text>
<text x="463.0" y="922.3" font-size="7.75" fill="#808080"  text-anchor="middle" stroke="#808080" stroke-width="0.08">4 (3)</text>
<text x="511.8" y="922.3" font-size="7.75" fill="#808080"  text-anchor="middle" stroke="#808080" stroke-width="0.08">3 (2)</text>
<text x="560.5" y="922.3" font-size="7.75" fill="#808080"  text-anchor="middle" stroke="#808080" stroke-width="0.08">3 (2)</text>
<text x="609.3" y="922.3" font-size="7.75" fill="#808080"  text-anchor="middle" stroke="#808080" stroke-width="0.08">2 (1)</text>
<text x="658.1" y="922.3" font-size="7.75" fill="#808080"  text-anchor="middle" stroke="#808080" stroke-width="0.08">1 (1)</text>
<path d="M144.7,926.8 H147.0" stroke="#5a5a5a" stroke-width="0.8"/>
<text x="144.7" y="929.4" font-size="7.25" fill="#4a4a4a"  text-anchor="end" stroke="#4a4a4a" stroke-width="0.1">Women normal GI diet &amp; men low GI diet</text>
<text x="170.3" y="930.4" font-size="7.75" fill="#4a4a4a"  text-anchor="middle" stroke="#4a4a4a" stroke-width="0.08">92 (100)</text>
<text x="219.1" y="930.4" font-size="7.75" fill="#4a4a4a"  text-anchor="middle" stroke="#4a4a4a" stroke-width="0.08">25 (27)</text>
<text x="267.9" y="930.4" font-size="7.75" fill="#4a4a4a"  text-anchor="middle" stroke="#4a4a4a" stroke-width="0.08">15 (16)</text>
<text x="316.6" y="930.4" font-size="7.75" fill="#4a4a4a"  text-anchor="middle" stroke="#4a4a4a" stroke-width="0.08">12 (13)</text>
<text x="365.4" y="930.4" font-size="7.75" fill="#4a4a4a"  text-anchor="middle" stroke="#4a4a4a" stroke-width="0.08">6 (7)</text>
<text x="414.2" y="930.4" font-size="7.75" fill="#4a4a4a"  text-anchor="middle" stroke="#4a4a4a" stroke-width="0.08">4 (4)</text>
<text x="463.0" y="930.4" font-size="7.75" fill="#4a4a4a"  text-anchor="middle" stroke="#4a4a4a" stroke-width="0.08">3 (3)</text>
<text x="511.8" y="930.4" font-size="7.75" fill="#4a4a4a"  text-anchor="middle" stroke="#4a4a4a" stroke-width="0.08">0 (0)</text>
<text x="560.5" y="930.4" font-size="7.75" fill="#4a4a4a"  text-anchor="middle" stroke="#4a4a4a" stroke-width="0.08">0 (0)</text>
<text x="609.3" y="930.4" font-size="7.75" fill="#4a4a4a"  text-anchor="middle" stroke="#4a4a4a" stroke-width="0.08">0 (0)</text>
<text x="658.1" y="930.4" font-size="7.75" fill="#4a4a4a"  text-anchor="middle" stroke="#4a4a4a" stroke-width="0.08">0 (0)</text>
<path d="M144.7,935.1 H147.0" stroke="#5a5a5a" stroke-width="0.8"/>
<text x="144.7" y="937.7" font-size="7.25" fill="#111"  text-anchor="end" stroke="#111" stroke-width="0.1">Both partners low GI diet</text>
<text x="170.3" y="938.1" font-size="7.75" fill="#111"  text-anchor="middle" stroke="#111" stroke-width="0.08">116 (100)</text>
<text x="219.1" y="938.1" font-size="7.75" fill="#111"  text-anchor="middle" stroke="#111" stroke-width="0.08">27 (23)</text>
<text x="267.9" y="938.1" font-size="7.75" fill="#111"  text-anchor="middle" stroke="#111" stroke-width="0.08">14 (12)</text>
<text x="316.6" y="938.1" font-size="7.75" fill="#111"  text-anchor="middle" stroke="#111" stroke-width="0.08">7 (6)</text>
<text x="365.4" y="938.1" font-size="7.75" fill="#111"  text-anchor="middle" stroke="#111" stroke-width="0.08">5 (4)</text>
<text x="414.2" y="938.1" font-size="7.75" fill="#111"  text-anchor="middle" stroke="#111" stroke-width="0.08">3 (3)</text>
<text x="463.0" y="938.1" font-size="7.75" fill="#111"  text-anchor="middle" stroke="#111" stroke-width="0.08">0 (0)</text>
<text x="511.8" y="938.1" font-size="7.75" fill="#111"  text-anchor="middle" stroke="#111" stroke-width="0.08">0 (0)</text>
<text x="560.5" y="938.1" font-size="7.75" fill="#111"  text-anchor="middle" stroke="#111" stroke-width="0.08">0 (0)</text>
<text x="609.3" y="938.1" font-size="7.75" fill="#111"  text-anchor="middle" stroke="#111" stroke-width="0.08">0 (0)</text>
<text x="658.1" y="938.1" font-size="7.75" fill="#111"  text-anchor="middle" stroke="#111" stroke-width="0.08">0 (0)</text>
<path d="M170.3,940.0 v1.9" stroke="#5a5a5a" stroke-width="0.8"/>
<text x="170.3" y="949.9" font-size="7.6" fill="#333" stroke="#333" stroke-width="0.22" text-anchor="middle" >0</text>
<path d="M219.1,940.0 v1.9" stroke="#5a5a5a" stroke-width="0.8"/>
<text x="219.1" y="949.9" font-size="7.6" fill="#333" stroke="#333" stroke-width="0.22" text-anchor="middle" >12</text>
<path d="M267.9,940.0 v1.9" stroke="#5a5a5a" stroke-width="0.8"/>
<text x="267.9" y="949.9" font-size="7.6" fill="#333" stroke="#333" stroke-width="0.22" text-anchor="middle" >24</text>
<path d="M316.6,940.0 v1.9" stroke="#5a5a5a" stroke-width="0.8"/>
<text x="316.6" y="949.9" font-size="7.6" fill="#333" stroke="#333" stroke-width="0.22" text-anchor="middle" >36</text>
<path d="M365.4,940.0 v1.9" stroke="#5a5a5a" stroke-width="0.8"/>
<text x="365.4" y="949.9" font-size="7.6" fill="#333" stroke="#333" stroke-width="0.22" text-anchor="middle" >48</text>
<path d="M414.2,940.0 v1.9" stroke="#5a5a5a" stroke-width="0.8"/>
<text x="414.2" y="949.9" font-size="7.6" fill="#333" stroke="#333" stroke-width="0.22" text-anchor="middle" >60</text>
<path d="M463.0,940.0 v1.9" stroke="#5a5a5a" stroke-width="0.8"/>
<text x="463.0" y="949.9" font-size="7.6" fill="#333" stroke="#333" stroke-width="0.22" text-anchor="middle" >72</text>
<path d="M511.8,940.0 v1.9" stroke="#5a5a5a" stroke-width="0.8"/>
<text x="511.8" y="949.9" font-size="7.6" fill="#333" stroke="#333" stroke-width="0.22" text-anchor="middle" >84</text>
<path d="M560.5,940.0 v1.9" stroke="#5a5a5a" stroke-width="0.8"/>
<text x="560.5" y="949.9" font-size="7.6" fill="#333" stroke="#333" stroke-width="0.22" text-anchor="middle" >96</text>
<path d="M609.3,940.0 v1.9" stroke="#5a5a5a" stroke-width="0.8"/>
<text x="609.3" y="949.9" font-size="7.6" fill="#333" stroke="#333" stroke-width="0.22" text-anchor="middle" >108</text>
<path d="M658.1,940.0 v1.9" stroke="#5a5a5a" stroke-width="0.8"/>
<text x="658.1" y="949.9" font-size="7.6" fill="#333" stroke="#333" stroke-width="0.22" text-anchor="middle" >120</text>
<text x="414.6" y="960.3" font-size="8.8" fill="#111" stroke="#111" stroke-width="0.22" text-anchor="middle" >Months (28 days)</text>
<text transform="translate(8.2,922.8) rotate(-90)" font-size="8.55" fill="#111" stroke="#111" stroke-width="0.3" text-anchor="middle">Strata</text>
</g>
</svg>
</body></html>
